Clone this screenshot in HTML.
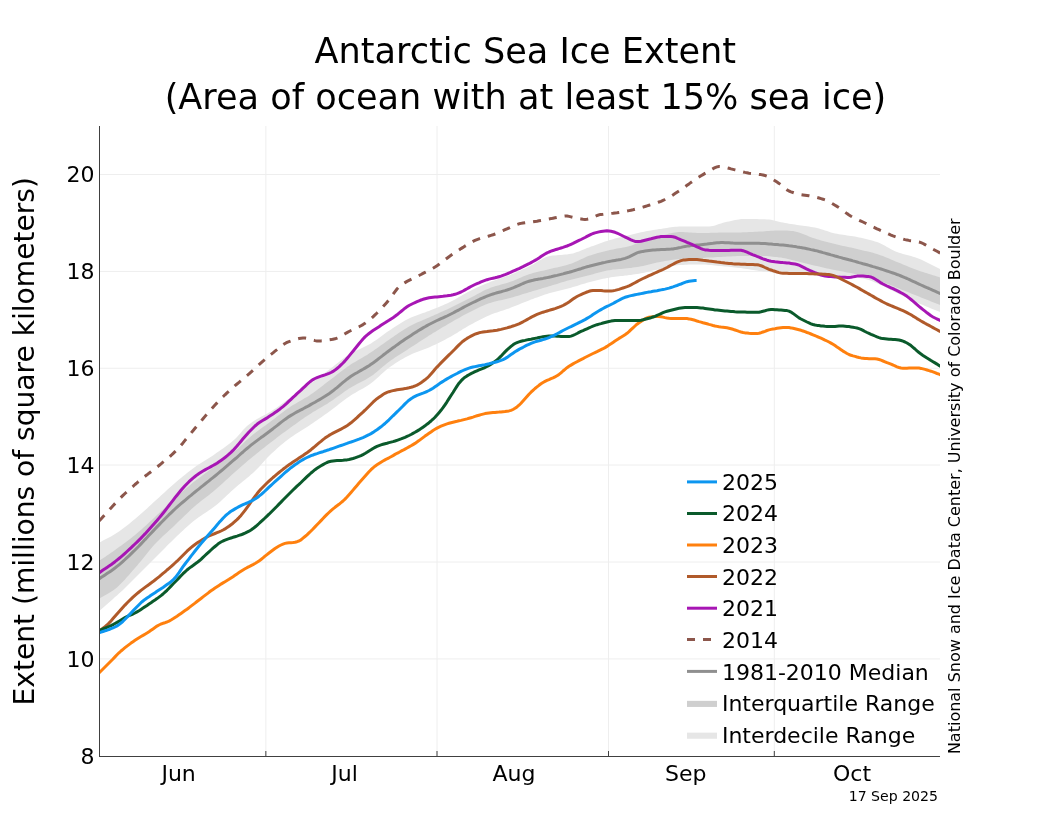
<!DOCTYPE html>
<html lang="en"><head><meta charset="utf-8"><title>Antarctic Sea Ice Extent</title>
<style>
html,body{margin:0;padding:0;background:#fff;}
body{width:1050px;height:840px;overflow:hidden;position:relative;font-family:'DejaVu Sans','Liberation Sans',sans-serif;color:#000;}
svg{position:absolute;left:0;top:0;display:block;}
svg text{font-family:'DejaVu Sans','Liberation Sans',sans-serif;fill:#000;}
</style></head><body>
<svg width="1050" height="840" viewBox="0 0 1050 840">
<rect width="1050" height="840" fill="#ffffff"/>
<defs><clipPath id="pc"><rect x="99.5" y="126" width="840.5" height="630.5"/></clipPath></defs>

<g stroke="#eeeeee" stroke-width="1" fill="none">
<line x1="265.85" y1="126" x2="265.85" y2="756.5"/>
<line x1="437.0" y1="126" x2="437.0" y2="756.5"/>
<line x1="608.5" y1="126" x2="608.5" y2="756.5"/>
<line x1="774.3" y1="126" x2="774.3" y2="756.5"/>
<line x1="99.5" y1="174.5" x2="940" y2="174.5"/>
<line x1="99.5" y1="271.4" x2="940" y2="271.4"/>
<line x1="99.5" y1="368.25" x2="940" y2="368.25"/>
<line x1="99.5" y1="465.05" x2="940" y2="465.05"/>
<line x1="99.5" y1="562.0" x2="940" y2="562.0"/>
<line x1="99.5" y1="658.9" x2="940" y2="658.9"/>
</g>
<g clip-path="url(#pc)" fill="none" stroke-linejoin="round" stroke-linecap="butt">
<path d="M99.0,542.8 L101.0,541.7 L103.0,540.6 L105.0,539.6 L107.0,538.5 L109.0,537.5 L111.0,536.4 L113.0,535.2 L115.0,534.0 L117.0,532.7 L119.0,531.4 L121.0,529.9 L123.0,528.5 L125.0,527.0 L127.0,525.4 L129.0,523.9 L131.0,522.3 L133.0,520.6 L135.0,519.0 L137.0,517.3 L139.0,515.6 L141.0,513.8 L143.0,512.0 L145.0,510.2 L147.0,508.4 L149.0,506.5 L151.0,504.7 L153.0,502.8 L155.0,501.0 L157.0,499.2 L159.0,497.4 L161.0,495.5 L163.0,493.7 L165.0,491.9 L167.0,490.0 L169.0,488.2 L171.0,486.5 L173.0,484.7 L175.0,483.0 L177.0,481.3 L179.0,479.6 L181.0,478.0 L183.0,476.3 L185.0,474.7 L187.0,473.1 L189.0,471.5 L191.0,470.0 L193.0,468.5 L195.0,467.0 L197.0,465.6 L199.0,464.3 L201.0,463.0 L203.0,461.7 L205.0,460.4 L207.0,459.2 L209.0,458.0 L211.0,456.7 L213.0,455.4 L215.0,454.0 L217.0,452.6 L219.0,451.2 L221.0,449.8 L223.0,448.4 L225.0,447.0 L227.0,445.5 L229.0,444.0 L231.0,442.4 L233.0,440.8 L235.0,439.0 L237.0,437.0 L239.0,434.8 L241.0,432.4 L243.0,430.1 L245.0,427.9 L247.0,426.0 L249.0,424.4 L251.0,423.0 L253.0,421.6 L255.0,420.3 L257.0,419.1 L259.0,417.9 L261.0,416.8 L263.0,415.8 L265.0,414.7 L267.0,413.7 L269.0,412.6 L271.0,411.4 L273.0,410.1 L275.0,408.8 L277.0,407.4 L279.0,406.0 L281.0,404.5 L283.0,403.1 L285.0,401.6 L287.0,400.1 L289.0,398.7 L291.0,397.3 L293.0,395.9 L295.0,394.5 L297.0,393.1 L299.0,391.8 L301.0,390.4 L303.0,389.0 L305.0,387.6 L307.0,386.2 L309.0,384.7 L311.0,383.3 L313.0,381.8 L315.0,380.3 L317.0,378.8 L319.0,377.3 L321.0,375.8 L323.0,374.3 L325.0,372.8 L327.0,371.3 L329.0,369.8 L331.0,368.2 L333.0,366.7 L335.0,365.1 L337.0,363.5 L339.0,361.9 L341.0,360.3 L343.0,358.8 L345.0,357.3 L347.0,355.9 L349.0,354.6 L351.0,353.4 L353.0,352.3 L355.0,351.3 L357.0,350.3 L359.0,349.4 L361.0,348.5 L363.0,347.6 L365.0,346.6 L367.0,345.6 L369.0,344.6 L371.0,343.4 L373.0,342.1 L375.0,340.8 L377.0,339.4 L379.0,337.9 L381.0,336.4 L383.0,334.9 L385.0,333.5 L387.0,332.0 L389.0,330.7 L391.0,329.4 L393.0,328.0 L395.0,326.7 L397.0,325.4 L399.0,324.2 L401.0,322.9 L403.0,321.7 L405.0,320.6 L407.0,319.5 L409.0,318.5 L411.0,317.5 L413.0,316.7 L415.0,315.9 L417.0,315.2 L419.0,314.4 L421.0,313.7 L423.0,313.1 L425.0,312.4 L427.0,311.6 L429.0,310.9 L431.0,310.1 L433.0,309.3 L435.0,308.5 L437.0,307.7 L439.0,306.9 L441.0,306.0 L443.0,305.2 L445.0,304.3 L447.0,303.4 L449.0,302.5 L451.0,301.5 L453.0,300.5 L455.0,299.4 L457.0,298.3 L459.0,297.1 L461.0,296.0 L463.0,294.8 L465.0,293.7 L467.0,292.6 L469.0,291.5 L471.0,290.5 L473.0,289.5 L475.0,288.6 L477.0,287.6 L479.0,286.7 L481.0,285.8 L483.0,284.9 L485.0,284.0 L487.0,283.2 L489.0,282.4 L491.0,281.6 L493.0,280.9 L495.0,280.2 L497.0,279.5 L499.0,278.8 L501.0,278.2 L503.0,277.5 L505.0,276.8 L507.0,276.1 L509.0,275.4 L511.0,274.6 L513.0,273.8 L515.0,272.9 L517.0,272.1 L519.0,271.2 L521.0,270.2 L523.0,269.3 L525.0,268.4 L527.0,267.4 L529.0,266.5 L531.0,265.5 L533.0,264.4 L535.0,263.3 L537.0,262.0 L539.0,260.8 L541.0,259.7 L543.0,258.6 L545.0,257.6 L547.0,256.8 L549.0,256.2 L551.0,255.8 L553.0,255.6 L555.0,255.4 L557.0,255.2 L559.0,255.0 L561.0,254.9 L563.0,254.8 L565.0,254.6 L567.0,254.4 L569.0,254.1 L571.0,253.8 L573.0,253.4 L575.0,252.8 L577.0,252.1 L579.0,251.4 L581.0,250.6 L583.0,249.8 L585.0,248.9 L587.0,248.1 L589.0,247.4 L591.0,246.6 L593.0,245.9 L595.0,245.2 L597.0,244.5 L599.0,243.7 L601.0,243.0 L603.0,242.3 L605.0,241.6 L607.0,240.9 L609.0,240.3 L611.0,239.7 L613.0,239.2 L615.0,238.6 L617.0,238.1 L619.0,237.6 L621.0,237.2 L623.0,236.7 L625.0,236.2 L627.0,235.7 L629.0,235.2 L631.0,234.7 L633.0,234.2 L635.0,233.7 L637.0,233.2 L639.0,232.7 L641.0,232.3 L643.0,231.9 L645.0,231.5 L647.0,231.1 L649.0,230.8 L651.0,230.4 L653.0,230.1 L655.0,229.8 L657.0,229.4 L659.0,229.1 L661.0,228.9 L663.0,228.5 L665.0,228.2 L667.0,227.9 L669.0,227.6 L671.0,227.3 L673.0,227.0 L675.0,226.8 L677.0,226.7 L679.0,226.6 L681.0,226.6 L683.0,226.6 L685.0,226.6 L687.0,226.6 L689.0,226.6 L691.0,226.6 L693.0,226.6 L695.0,226.6 L697.0,226.6 L699.0,226.6 L701.0,226.6 L703.0,226.6 L705.0,226.6 L707.0,226.6 L709.0,226.6 L711.0,226.3 L713.0,225.9 L715.0,225.4 L717.0,224.8 L719.0,224.1 L721.0,223.4 L723.0,222.8 L725.0,222.2 L727.0,221.8 L729.0,221.4 L731.0,220.9 L733.0,220.5 L735.0,220.0 L737.0,219.7 L739.0,219.4 L741.0,219.1 L743.0,219.0 L745.0,219.0 L747.0,219.0 L749.0,219.0 L751.0,219.0 L753.0,219.1 L755.0,219.1 L757.0,219.1 L759.0,219.2 L761.0,219.2 L763.0,219.2 L765.0,219.3 L767.0,219.4 L769.0,219.5 L771.0,219.8 L773.0,220.2 L775.0,220.7 L777.0,221.3 L779.0,221.8 L781.0,222.2 L783.0,222.6 L785.0,223.0 L787.0,223.3 L789.0,223.7 L791.0,224.0 L793.0,224.3 L795.0,224.6 L797.0,224.9 L799.0,225.2 L801.0,225.4 L803.0,225.7 L805.0,226.0 L807.0,226.3 L809.0,226.6 L811.0,226.9 L813.0,227.2 L815.0,227.6 L817.0,228.0 L819.0,228.6 L821.0,229.2 L823.0,229.8 L825.0,230.5 L827.0,231.1 L829.0,231.8 L831.0,232.4 L833.0,232.9 L835.0,233.4 L837.0,233.8 L839.0,234.2 L841.0,234.5 L843.0,234.8 L845.0,235.1 L847.0,235.4 L849.0,235.7 L851.0,236.0 L853.0,236.3 L855.0,236.6 L857.0,237.0 L859.0,237.4 L861.0,237.8 L863.0,238.2 L865.0,238.7 L867.0,239.2 L869.0,239.7 L871.0,240.2 L873.0,240.8 L875.0,241.4 L877.0,242.0 L879.0,242.8 L881.0,243.7 L883.0,244.7 L885.0,245.8 L887.0,246.9 L889.0,248.0 L891.0,249.2 L893.0,250.2 L895.0,251.2 L897.0,252.0 L899.0,252.7 L901.0,253.3 L903.0,253.9 L905.0,254.5 L907.0,255.0 L909.0,255.6 L911.0,256.1 L913.0,256.7 L915.0,257.3 L917.0,258.0 L919.0,258.8 L921.0,259.6 L923.0,260.5 L925.0,261.4 L927.0,262.4 L929.0,263.4 L931.0,264.5 L933.0,265.5 L935.0,266.5 L937.0,267.5 L939.0,268.5 L941.0,269.5 L941.0,312.4 L939.0,311.6 L937.0,310.8 L935.0,310.0 L933.0,309.2 L931.0,308.4 L929.0,307.6 L927.0,306.8 L925.0,306.0 L923.0,305.1 L921.0,304.3 L919.0,303.4 L917.0,302.5 L915.0,301.6 L913.0,300.7 L911.0,299.8 L909.0,298.9 L907.0,297.9 L905.0,297.0 L903.0,296.0 L901.0,295.0 L899.0,294.0 L897.0,293.0 L895.0,291.9 L893.0,290.9 L891.0,289.9 L889.0,288.9 L887.0,287.9 L885.0,287.0 L883.0,286.1 L881.0,285.2 L879.0,284.2 L877.0,283.3 L875.0,282.4 L873.0,281.6 L871.0,280.8 L869.0,280.1 L867.0,279.5 L865.0,279.0 L863.0,278.6 L861.0,278.2 L859.0,277.8 L857.0,277.5 L855.0,277.1 L853.0,276.9 L851.0,276.6 L849.0,276.4 L847.0,276.2 L845.0,276.0 L843.0,275.9 L841.0,275.7 L839.0,275.6 L837.0,275.5 L835.0,275.4 L833.0,275.3 L831.0,275.3 L829.0,275.2 L827.0,275.1 L825.0,275.0 L823.0,274.9 L821.0,274.8 L819.0,274.7 L817.0,274.6 L815.0,274.5 L813.0,274.4 L811.0,274.3 L809.0,274.2 L807.0,274.1 L805.0,274.0 L803.0,273.9 L801.0,273.8 L799.0,273.8 L797.0,273.7 L795.0,273.6 L793.0,273.5 L791.0,273.5 L789.0,273.4 L787.0,273.3 L785.0,273.2 L783.0,273.2 L781.0,273.1 L779.0,272.9 L777.0,272.8 L775.0,272.6 L773.0,272.5 L771.0,272.3 L769.0,272.0 L767.0,271.8 L765.0,271.6 L763.0,271.4 L761.0,271.1 L759.0,270.9 L757.0,270.6 L755.0,270.3 L753.0,270.0 L751.0,269.7 L749.0,269.3 L747.0,269.0 L745.0,268.7 L743.0,268.4 L741.0,268.1 L739.0,267.9 L737.0,267.7 L735.0,267.4 L733.0,267.2 L731.0,267.0 L729.0,266.8 L727.0,266.6 L725.0,266.5 L723.0,266.3 L721.0,266.1 L719.0,265.9 L717.0,265.7 L715.0,265.5 L713.0,265.3 L711.0,265.1 L709.0,264.9 L707.0,264.7 L705.0,264.6 L703.0,264.5 L701.0,264.4 L699.0,264.4 L697.0,264.4 L695.0,264.4 L693.0,264.5 L691.0,264.5 L689.0,264.6 L687.0,264.7 L685.0,264.8 L683.0,264.9 L681.0,264.9 L679.0,265.1 L677.0,265.3 L675.0,265.6 L673.0,265.9 L671.0,266.4 L669.0,266.8 L667.0,267.3 L665.0,267.8 L663.0,268.3 L661.0,268.8 L659.0,269.2 L657.0,269.7 L655.0,270.1 L653.0,270.6 L651.0,271.1 L649.0,271.6 L647.0,272.0 L645.0,272.5 L643.0,272.9 L641.0,273.3 L639.0,273.7 L637.0,274.0 L635.0,274.3 L633.0,274.6 L631.0,274.9 L629.0,275.1 L627.0,275.4 L625.0,275.6 L623.0,275.9 L621.0,276.1 L619.0,276.3 L617.0,276.5 L615.0,276.8 L613.0,277.1 L611.0,277.3 L609.0,277.7 L607.0,278.0 L605.0,278.4 L603.0,278.8 L601.0,279.3 L599.0,279.7 L597.0,280.2 L595.0,280.7 L593.0,281.2 L591.0,281.7 L589.0,282.3 L587.0,282.8 L585.0,283.4 L583.0,284.0 L581.0,284.6 L579.0,285.3 L577.0,285.9 L575.0,286.5 L573.0,287.1 L571.0,287.7 L569.0,288.3 L567.0,288.8 L565.0,289.3 L563.0,289.8 L561.0,290.2 L559.0,290.7 L557.0,291.2 L555.0,291.7 L553.0,292.2 L551.0,292.7 L549.0,293.3 L547.0,293.9 L545.0,294.6 L543.0,295.2 L541.0,295.9 L539.0,296.7 L537.0,297.4 L535.0,298.1 L533.0,298.9 L531.0,299.6 L529.0,300.4 L527.0,301.2 L525.0,301.9 L523.0,302.8 L521.0,303.6 L519.0,304.4 L517.0,305.2 L515.0,306.0 L513.0,306.8 L511.0,307.6 L509.0,308.4 L507.0,309.1 L505.0,309.8 L503.0,310.4 L501.0,311.1 L499.0,311.7 L497.0,312.4 L495.0,313.1 L493.0,313.8 L491.0,314.6 L489.0,315.4 L487.0,316.3 L485.0,317.2 L483.0,318.2 L481.0,319.2 L479.0,320.2 L477.0,321.2 L475.0,322.3 L473.0,323.4 L471.0,324.5 L469.0,325.6 L467.0,326.7 L465.0,327.9 L463.0,329.1 L461.0,330.4 L459.0,331.6 L457.0,332.9 L455.0,334.1 L453.0,335.3 L451.0,336.4 L449.0,337.5 L447.0,338.6 L445.0,339.7 L443.0,340.7 L441.0,341.7 L439.0,342.8 L437.0,343.7 L435.0,344.7 L433.0,345.6 L431.0,346.6 L429.0,347.4 L427.0,348.3 L425.0,349.1 L423.0,349.8 L421.0,350.5 L419.0,351.3 L417.0,352.0 L415.0,352.8 L413.0,353.6 L411.0,354.5 L409.0,355.5 L407.0,356.5 L405.0,357.6 L403.0,358.7 L401.0,359.8 L399.0,361.1 L397.0,362.3 L395.0,363.6 L393.0,364.9 L391.0,366.3 L389.0,367.7 L387.0,369.3 L385.0,371.0 L383.0,372.7 L381.0,374.6 L379.0,376.4 L377.0,378.3 L375.0,380.0 L373.0,381.7 L371.0,383.3 L369.0,384.7 L367.0,386.0 L365.0,387.2 L363.0,388.4 L361.0,389.5 L359.0,390.6 L357.0,391.8 L355.0,392.9 L353.0,394.1 L351.0,395.3 L349.0,396.7 L347.0,398.1 L345.0,399.5 L343.0,401.0 L341.0,402.6 L339.0,404.1 L337.0,405.7 L335.0,407.2 L333.0,408.8 L331.0,410.3 L329.0,411.7 L327.0,413.2 L325.0,414.6 L323.0,416.0 L321.0,417.4 L319.0,418.8 L317.0,420.2 L315.0,421.6 L313.0,423.0 L311.0,424.3 L309.0,425.7 L307.0,427.0 L305.0,428.2 L303.0,429.5 L301.0,430.7 L299.0,432.0 L297.0,433.2 L295.0,434.5 L293.0,435.9 L291.0,437.3 L289.0,438.7 L287.0,440.3 L285.0,441.8 L283.0,443.5 L281.0,445.1 L279.0,446.8 L277.0,448.6 L275.0,450.4 L273.0,452.2 L271.0,454.1 L269.0,456.0 L267.0,458.0 L265.0,460.2 L263.0,462.4 L261.0,464.7 L259.0,466.9 L257.0,469.0 L255.0,471.0 L253.0,472.9 L251.0,474.6 L249.0,476.4 L247.0,478.0 L245.0,479.7 L243.0,481.3 L241.0,483.0 L239.0,484.6 L237.0,486.3 L235.0,488.0 L233.0,489.8 L231.0,491.6 L229.0,493.5 L227.0,495.3 L225.0,497.2 L223.0,499.1 L221.0,500.9 L219.0,502.7 L217.0,504.4 L215.0,506.0 L213.0,507.5 L211.0,509.0 L209.0,510.3 L207.0,511.7 L205.0,513.0 L203.0,514.3 L201.0,515.7 L199.0,517.0 L197.0,518.5 L195.0,520.0 L193.0,521.6 L191.0,523.3 L189.0,525.0 L187.0,526.8 L185.0,528.6 L183.0,530.4 L181.0,532.3 L179.0,534.2 L177.0,536.1 L175.0,538.0 L173.0,539.9 L171.0,541.9 L169.0,543.8 L167.0,545.8 L165.0,547.9 L163.0,549.9 L161.0,551.9 L159.0,554.0 L157.0,556.0 L155.0,558.0 L153.0,560.0 L151.0,562.0 L149.0,564.0 L147.0,566.0 L145.0,568.0 L143.0,570.0 L141.0,572.0 L139.0,574.0 L137.0,576.0 L135.0,578.0 L133.0,580.0 L131.0,582.0 L129.0,584.1 L127.0,586.1 L125.0,588.0 L123.0,589.9 L121.0,591.7 L119.0,593.6 L117.0,595.4 L115.0,597.1 L113.0,598.9 L111.0,600.7 L109.0,602.4 L107.0,604.2 L105.0,605.9 L103.0,607.7 L101.0,609.5 L99.0,611.3Z" fill="#e6e6e6" stroke="none"/>
<path d="M99.0,561.0 L101.0,559.6 L103.0,558.2 L105.0,556.9 L107.0,555.5 L109.0,554.2 L111.0,552.8 L113.0,551.4 L115.0,550.0 L117.0,548.6 L119.0,547.1 L121.0,545.7 L123.0,544.2 L125.0,542.8 L127.0,541.3 L129.0,539.7 L131.0,538.2 L133.0,536.6 L135.0,535.0 L137.0,533.3 L139.0,531.6 L141.0,529.9 L143.0,528.1 L145.0,526.3 L147.0,524.4 L149.0,522.6 L151.0,520.7 L153.0,518.9 L155.0,517.0 L157.0,515.1 L159.0,513.2 L161.0,511.3 L163.0,509.4 L165.0,507.4 L167.0,505.5 L169.0,503.6 L171.0,501.7 L173.0,499.8 L175.0,498.0 L177.0,496.2 L179.0,494.4 L181.0,492.7 L183.0,491.0 L185.0,489.2 L187.0,487.6 L189.0,485.9 L191.0,484.2 L193.0,482.6 L195.0,481.0 L197.0,479.4 L199.0,477.9 L201.0,476.4 L203.0,474.9 L205.0,473.4 L207.0,471.9 L209.0,470.4 L211.0,469.0 L213.0,467.5 L215.0,466.0 L217.0,464.5 L219.0,463.1 L221.0,461.6 L223.0,460.2 L225.0,458.7 L227.0,457.2 L229.0,455.8 L231.0,454.2 L233.0,452.6 L235.0,451.0 L237.0,449.3 L239.0,447.4 L241.0,445.5 L243.0,443.5 L245.0,441.6 L247.0,439.7 L249.0,437.9 L251.0,436.2 L253.0,434.6 L255.0,433.0 L257.0,431.5 L259.0,430.0 L261.0,428.6 L263.0,427.1 L265.0,425.7 L267.0,424.2 L269.0,422.7 L271.0,421.2 L273.0,419.7 L275.0,418.2 L277.0,416.6 L279.0,415.1 L281.0,413.5 L283.0,412.0 L285.0,410.5 L287.0,409.1 L289.0,407.7 L291.0,406.3 L293.0,405.1 L295.0,403.9 L297.0,402.7 L299.0,401.6 L301.0,400.4 L303.0,399.3 L305.0,398.1 L307.0,396.9 L309.0,395.7 L311.0,394.3 L313.0,392.9 L315.0,391.5 L317.0,390.0 L319.0,388.5 L321.0,386.9 L323.0,385.4 L325.0,383.8 L327.0,382.3 L329.0,380.8 L331.0,379.2 L333.0,377.7 L335.0,376.2 L337.0,374.6 L339.0,373.1 L341.0,371.5 L343.0,370.0 L345.0,368.5 L347.0,367.1 L349.0,365.7 L351.0,364.3 L353.0,363.1 L355.0,361.9 L357.0,360.7 L359.0,359.5 L361.0,358.4 L363.0,357.2 L365.0,356.1 L367.0,354.9 L369.0,353.6 L371.0,352.3 L373.0,351.0 L375.0,349.6 L377.0,348.2 L379.0,346.8 L381.0,345.3 L383.0,343.9 L385.0,342.5 L387.0,341.1 L389.0,339.7 L391.0,338.3 L393.0,337.0 L395.0,335.6 L397.0,334.2 L399.0,332.8 L401.0,331.5 L403.0,330.2 L405.0,328.9 L407.0,327.7 L409.0,326.5 L411.0,325.5 L413.0,324.5 L415.0,323.5 L417.0,322.6 L419.0,321.7 L421.0,320.9 L423.0,320.0 L425.0,319.2 L427.0,318.3 L429.0,317.4 L431.0,316.6 L433.0,315.7 L435.0,314.8 L437.0,313.9 L439.0,313.0 L441.0,312.1 L443.0,311.2 L445.0,310.3 L447.0,309.4 L449.0,308.5 L451.0,307.5 L453.0,306.6 L455.0,305.6 L457.0,304.6 L459.0,303.6 L461.0,302.6 L463.0,301.5 L465.0,300.5 L467.0,299.5 L469.0,298.5 L471.0,297.5 L473.0,296.5 L475.0,295.4 L477.0,294.3 L479.0,293.2 L481.0,292.2 L483.0,291.1 L485.0,290.1 L487.0,289.2 L489.0,288.4 L491.0,287.6 L493.0,287.0 L495.0,286.3 L497.0,285.7 L499.0,285.2 L501.0,284.6 L503.0,284.1 L505.0,283.6 L507.0,283.0 L509.0,282.3 L511.0,281.6 L513.0,280.9 L515.0,280.1 L517.0,279.2 L519.0,278.3 L521.0,277.5 L523.0,276.6 L525.0,275.8 L527.0,275.0 L529.0,274.3 L531.0,273.7 L533.0,273.1 L535.0,272.6 L537.0,272.1 L539.0,271.6 L541.0,271.1 L543.0,270.7 L545.0,270.2 L547.0,269.7 L549.0,269.2 L551.0,268.8 L553.0,268.3 L555.0,267.8 L557.0,267.4 L559.0,266.9 L561.0,266.4 L563.0,265.9 L565.0,265.4 L567.0,264.9 L569.0,264.3 L571.0,263.7 L573.0,262.9 L575.0,262.1 L577.0,261.2 L579.0,260.3 L581.0,259.3 L583.0,258.4 L585.0,257.5 L587.0,256.6 L589.0,255.8 L591.0,255.2 L593.0,254.5 L595.0,253.9 L597.0,253.3 L599.0,252.8 L601.0,252.2 L603.0,251.7 L605.0,251.2 L607.0,250.7 L609.0,250.2 L611.0,249.8 L613.0,249.4 L615.0,249.0 L617.0,248.6 L619.0,248.3 L621.0,247.9 L623.0,247.6 L625.0,247.2 L627.0,246.8 L629.0,246.3 L631.0,245.7 L633.0,244.9 L635.0,244.1 L637.0,243.2 L639.0,242.4 L641.0,241.7 L643.0,241.0 L645.0,240.3 L647.0,239.7 L649.0,239.0 L651.0,238.4 L653.0,237.8 L655.0,237.3 L657.0,236.8 L659.0,236.2 L661.0,235.8 L663.0,235.2 L665.0,234.7 L667.0,234.2 L669.0,233.6 L671.0,233.2 L673.0,232.7 L675.0,232.4 L677.0,232.2 L679.0,232.0 L681.0,232.0 L683.0,232.1 L685.0,232.2 L687.0,232.3 L689.0,232.4 L691.0,232.6 L693.0,232.7 L695.0,232.8 L697.0,232.9 L699.0,233.0 L701.0,233.0 L703.0,233.0 L705.0,232.9 L707.0,232.9 L709.0,232.9 L711.0,232.8 L713.0,232.8 L715.0,232.7 L717.0,232.7 L719.0,232.6 L721.0,232.6 L723.0,232.6 L725.0,232.5 L727.0,232.5 L729.0,232.5 L731.0,232.5 L733.0,232.5 L735.0,232.5 L737.0,232.4 L739.0,232.4 L741.0,232.4 L743.0,232.3 L745.0,232.3 L747.0,232.2 L749.0,232.1 L751.0,232.0 L753.0,231.9 L755.0,231.8 L757.0,231.7 L759.0,231.6 L761.0,231.5 L763.0,231.4 L765.0,231.3 L767.0,231.1 L769.0,231.0 L771.0,230.8 L773.0,230.7 L775.0,230.5 L777.0,230.5 L779.0,230.4 L781.0,230.4 L783.0,230.4 L785.0,230.5 L787.0,230.6 L789.0,230.8 L791.0,230.9 L793.0,231.1 L795.0,231.5 L797.0,232.0 L799.0,232.6 L801.0,233.2 L803.0,233.9 L805.0,234.7 L807.0,235.6 L809.0,236.4 L811.0,237.2 L813.0,237.9 L815.0,238.6 L817.0,239.2 L819.0,239.8 L821.0,240.4 L823.0,240.9 L825.0,241.5 L827.0,242.0 L829.0,242.5 L831.0,243.0 L833.0,243.5 L835.0,244.0 L837.0,244.5 L839.0,245.0 L841.0,245.4 L843.0,245.9 L845.0,246.3 L847.0,246.7 L849.0,247.2 L851.0,247.6 L853.0,248.1 L855.0,248.5 L857.0,249.0 L859.0,249.5 L861.0,249.9 L863.0,250.4 L865.0,250.9 L867.0,251.3 L869.0,251.8 L871.0,252.3 L873.0,252.8 L875.0,253.4 L877.0,254.0 L879.0,254.7 L881.0,255.4 L883.0,256.1 L885.0,256.9 L887.0,257.8 L889.0,258.6 L891.0,259.5 L893.0,260.3 L895.0,261.2 L897.0,262.0 L899.0,262.8 L901.0,263.6 L903.0,264.5 L905.0,265.3 L907.0,266.1 L909.0,266.9 L911.0,267.7 L913.0,268.5 L915.0,269.3 L917.0,270.0 L919.0,270.7 L921.0,271.4 L923.0,272.0 L925.0,272.7 L927.0,273.3 L929.0,274.0 L931.0,274.6 L933.0,275.2 L935.0,275.8 L937.0,276.4 L939.0,277.1 L941.0,277.7 L941.0,305.4 L939.0,304.6 L937.0,303.8 L935.0,303.0 L933.0,302.2 L931.0,301.4 L929.0,300.6 L927.0,299.8 L925.0,299.0 L923.0,298.2 L921.0,297.4 L919.0,296.6 L917.0,295.8 L915.0,295.0 L913.0,294.2 L911.0,293.4 L909.0,292.6 L907.0,291.8 L905.0,291.0 L903.0,290.2 L901.0,289.4 L899.0,288.6 L897.0,287.7 L895.0,286.9 L893.0,286.1 L891.0,285.3 L889.0,284.5 L887.0,283.8 L885.0,283.0 L883.0,282.2 L881.0,281.5 L879.0,280.7 L877.0,279.9 L875.0,279.2 L873.0,278.5 L871.0,277.8 L869.0,277.1 L867.0,276.5 L865.0,276.0 L863.0,275.5 L861.0,275.1 L859.0,274.6 L857.0,274.2 L855.0,273.9 L853.0,273.5 L851.0,273.1 L849.0,272.8 L847.0,272.4 L845.0,272.0 L843.0,271.6 L841.0,271.2 L839.0,270.8 L837.0,270.4 L835.0,270.0 L833.0,269.7 L831.0,269.3 L829.0,268.8 L827.0,268.4 L825.0,268.0 L823.0,267.6 L821.0,267.1 L819.0,266.6 L817.0,266.1 L815.0,265.7 L813.0,265.2 L811.0,264.7 L809.0,264.2 L807.0,263.7 L805.0,263.2 L803.0,262.7 L801.0,262.2 L799.0,261.8 L797.0,261.3 L795.0,260.8 L793.0,260.2 L791.0,259.7 L789.0,259.2 L787.0,258.8 L785.0,258.3 L783.0,258.0 L781.0,257.6 L779.0,257.4 L777.0,257.1 L775.0,256.9 L773.0,256.7 L771.0,256.4 L769.0,256.2 L767.0,256.1 L765.0,255.9 L763.0,255.9 L761.0,255.8 L759.0,255.8 L757.0,255.8 L755.0,255.8 L753.0,255.8 L751.0,255.8 L749.0,255.9 L747.0,255.9 L745.0,255.9 L743.0,256.0 L741.0,256.0 L739.0,256.0 L737.0,256.1 L735.0,256.2 L733.0,256.3 L731.0,256.4 L729.0,256.5 L727.0,256.6 L725.0,256.7 L723.0,256.8 L721.0,256.9 L719.0,257.1 L717.0,257.1 L715.0,257.2 L713.0,257.4 L711.0,257.4 L709.0,257.6 L707.0,257.6 L705.0,257.8 L703.0,257.9 L701.0,257.9 L699.0,258.0 L697.0,258.1 L695.0,258.2 L693.0,258.3 L691.0,258.4 L689.0,258.5 L687.0,258.6 L685.0,258.7 L683.0,258.8 L681.0,258.9 L679.0,259.1 L677.0,259.3 L675.0,259.5 L673.0,259.8 L671.0,260.1 L669.0,260.4 L667.0,260.7 L665.0,261.1 L663.0,261.5 L661.0,261.8 L659.0,262.2 L657.0,262.6 L655.0,263.0 L653.0,263.5 L651.0,264.0 L649.0,264.5 L647.0,265.0 L645.0,265.5 L643.0,265.9 L641.0,266.3 L639.0,266.7 L637.0,267.0 L635.0,267.3 L633.0,267.6 L631.0,267.9 L629.0,268.1 L627.0,268.3 L625.0,268.5 L623.0,268.7 L621.0,268.9 L619.0,269.0 L617.0,269.2 L615.0,269.4 L613.0,269.6 L611.0,269.9 L609.0,270.2 L607.0,270.5 L605.0,270.9 L603.0,271.4 L601.0,272.0 L599.0,272.5 L597.0,273.1 L595.0,273.6 L593.0,274.2 L591.0,274.7 L589.0,275.2 L587.0,275.7 L585.0,276.2 L583.0,276.7 L581.0,277.2 L579.0,277.7 L577.0,278.2 L575.0,278.7 L573.0,279.2 L571.0,279.7 L569.0,280.3 L567.0,280.8 L565.0,281.4 L563.0,282.0 L561.0,282.6 L559.0,283.2 L557.0,283.9 L555.0,284.5 L553.0,285.1 L551.0,285.7 L549.0,286.3 L547.0,286.9 L545.0,287.5 L543.0,288.1 L541.0,288.7 L539.0,289.3 L537.0,289.9 L535.0,290.5 L533.0,291.1 L531.0,291.7 L529.0,292.3 L527.0,292.9 L525.0,293.5 L523.0,294.1 L521.0,294.8 L519.0,295.4 L517.0,296.0 L515.0,296.6 L513.0,297.2 L511.0,297.7 L509.0,298.3 L507.0,298.8 L505.0,299.2 L503.0,299.7 L501.0,300.2 L499.0,300.6 L497.0,301.1 L495.0,301.6 L493.0,302.1 L491.0,302.7 L489.0,303.3 L487.0,304.1 L485.0,304.8 L483.0,305.7 L481.0,306.6 L479.0,307.5 L477.0,308.5 L475.0,309.5 L473.0,310.5 L471.0,311.5 L469.0,312.5 L467.0,313.5 L465.0,314.6 L463.0,315.6 L461.0,316.7 L459.0,317.9 L457.0,319.0 L455.0,320.1 L453.0,321.3 L451.0,322.4 L449.0,323.6 L447.0,324.7 L445.0,325.9 L443.0,327.1 L441.0,328.3 L439.0,329.5 L437.0,330.7 L435.0,331.9 L433.0,333.1 L431.0,334.4 L429.0,335.6 L427.0,336.9 L425.0,338.2 L423.0,339.5 L421.0,340.8 L419.0,342.1 L417.0,343.4 L415.0,344.7 L413.0,346.0 L411.0,347.3 L409.0,348.6 L407.0,349.9 L405.0,351.2 L403.0,352.4 L401.0,353.7 L399.0,355.0 L397.0,356.3 L395.0,357.6 L393.0,358.9 L391.0,360.3 L389.0,361.7 L387.0,363.3 L385.0,364.9 L383.0,366.6 L381.0,368.3 L379.0,370.0 L377.0,371.7 L375.0,373.3 L373.0,374.9 L371.0,376.3 L369.0,377.6 L367.0,378.8 L365.0,380.0 L363.0,381.0 L361.0,382.1 L359.0,383.1 L357.0,384.1 L355.0,385.2 L353.0,386.2 L351.0,387.4 L349.0,388.6 L347.0,389.9 L345.0,391.3 L343.0,392.7 L341.0,394.2 L339.0,395.7 L337.0,397.1 L335.0,398.6 L333.0,400.0 L331.0,401.3 L329.0,402.6 L327.0,403.9 L325.0,405.1 L323.0,406.3 L321.0,407.4 L319.0,408.6 L317.0,409.7 L315.0,410.9 L313.0,412.1 L311.0,413.4 L309.0,414.7 L307.0,416.0 L305.0,417.3 L303.0,418.7 L301.0,420.1 L299.0,421.5 L297.0,422.9 L295.0,424.4 L293.0,425.8 L291.0,427.3 L289.0,428.7 L287.0,430.2 L285.0,431.7 L283.0,433.1 L281.0,434.6 L279.0,436.1 L277.0,437.6 L275.0,439.2 L273.0,440.7 L271.0,442.2 L269.0,443.8 L267.0,445.3 L265.0,446.9 L263.0,448.5 L261.0,450.1 L259.0,451.7 L257.0,453.3 L255.0,454.9 L253.0,456.5 L251.0,458.2 L249.0,459.8 L247.0,461.5 L245.0,463.2 L243.0,465.0 L241.0,466.7 L239.0,468.5 L237.0,470.2 L235.0,472.0 L233.0,473.8 L231.0,475.6 L229.0,477.4 L227.0,479.3 L225.0,481.1 L223.0,482.9 L221.0,484.7 L219.0,486.5 L217.0,488.3 L215.0,490.0 L213.0,491.7 L211.0,493.3 L209.0,494.9 L207.0,496.4 L205.0,497.9 L203.0,499.5 L201.0,501.1 L199.0,502.7 L197.0,504.3 L195.0,506.0 L193.0,507.8 L191.0,509.6 L189.0,511.5 L187.0,513.4 L185.0,515.3 L183.0,517.2 L181.0,519.2 L179.0,521.1 L177.0,523.1 L175.0,525.0 L173.0,526.9 L171.0,528.7 L169.0,530.6 L167.0,532.4 L165.0,534.2 L163.0,536.1 L161.0,538.0 L159.0,539.9 L157.0,541.9 L155.0,544.0 L153.0,546.2 L151.0,548.5 L149.0,550.9 L147.0,553.4 L145.0,555.9 L143.0,558.4 L141.0,560.9 L139.0,563.3 L137.0,565.7 L135.0,568.0 L133.0,570.3 L131.0,572.6 L129.0,574.9 L127.0,577.1 L125.0,579.4 L123.0,581.6 L121.0,583.6 L119.0,585.6 L117.0,587.4 L115.0,589.0 L113.0,590.5 L111.0,591.8 L109.0,593.0 L107.0,594.2 L105.0,595.3 L103.0,596.5 L101.0,597.6 L99.0,598.9Z" fill="#cfcfcf" stroke="none"/>
<path d="M99.0,579.0 L101.0,577.6 L103.0,576.3 L105.0,574.9 L107.0,573.6 L109.0,572.3 L111.0,570.9 L113.0,569.5 L115.0,568.0 L117.0,566.4 L119.0,564.8 L121.0,563.1 L123.0,561.3 L125.0,559.5 L127.0,557.6 L129.0,555.8 L131.0,553.9 L133.0,551.9 L135.0,550.0 L137.0,548.0 L139.0,546.0 L141.0,543.9 L143.0,541.8 L145.0,539.6 L147.0,537.5 L149.0,535.3 L151.0,533.2 L153.0,531.1 L155.0,529.0 L157.0,526.9 L159.0,524.9 L161.0,522.8 L163.0,520.8 L165.0,518.7 L167.0,516.7 L169.0,514.7 L171.0,512.8 L173.0,510.9 L175.0,509.0 L177.0,507.2 L179.0,505.4 L181.0,503.7 L183.0,502.0 L185.0,500.3 L187.0,498.6 L189.0,496.9 L191.0,495.3 L193.0,493.6 L195.0,492.0 L197.0,490.4 L199.0,488.8 L201.0,487.2 L203.0,485.6 L205.0,484.0 L207.0,482.4 L209.0,480.8 L211.0,479.2 L213.0,477.6 L215.0,476.0 L217.0,474.3 L219.0,472.7 L221.0,471.0 L223.0,469.3 L225.0,467.6 L227.0,465.9 L229.0,464.2 L231.0,462.4 L233.0,460.7 L235.0,459.0 L237.0,457.3 L239.0,455.5 L241.0,453.7 L243.0,452.0 L245.0,450.2 L247.0,448.5 L249.0,446.8 L251.0,445.2 L253.0,443.6 L255.0,442.1 L257.0,440.6 L259.0,439.1 L261.0,437.6 L263.0,436.2 L265.0,434.7 L267.0,433.2 L269.0,431.7 L271.0,430.2 L273.0,428.7 L275.0,427.1 L277.0,425.6 L279.0,424.0 L281.0,422.4 L283.0,420.9 L285.0,419.4 L287.0,418.0 L289.0,416.6 L291.0,415.4 L293.0,414.2 L295.0,413.0 L297.0,411.9 L299.0,410.9 L301.0,409.8 L303.0,408.8 L305.0,407.7 L307.0,406.7 L309.0,405.6 L311.0,404.4 L313.0,403.3 L315.0,402.2 L317.0,401.0 L319.0,399.9 L321.0,398.7 L323.0,397.5 L325.0,396.3 L327.0,395.0 L329.0,393.7 L331.0,392.3 L333.0,390.8 L335.0,389.2 L337.0,387.6 L339.0,385.9 L341.0,384.1 L343.0,382.4 L345.0,380.8 L347.0,379.2 L349.0,377.7 L351.0,376.3 L353.0,375.0 L355.0,373.8 L357.0,372.7 L359.0,371.5 L361.0,370.4 L363.0,369.3 L365.0,368.1 L367.0,366.9 L369.0,365.7 L371.0,364.3 L373.0,362.9 L375.0,361.5 L377.0,360.0 L379.0,358.4 L381.0,356.9 L383.0,355.3 L385.0,353.8 L387.0,352.2 L389.0,350.7 L391.0,349.3 L393.0,347.8 L395.0,346.4 L397.0,344.9 L399.0,343.5 L401.0,342.1 L403.0,340.7 L405.0,339.3 L407.0,338.0 L409.0,336.7 L411.0,335.4 L413.0,334.1 L415.0,332.8 L417.0,331.6 L419.0,330.3 L421.0,329.1 L423.0,327.9 L425.0,326.8 L427.0,325.6 L429.0,324.5 L431.0,323.5 L433.0,322.5 L435.0,321.5 L437.0,320.5 L439.0,319.6 L441.0,318.7 L443.0,317.8 L445.0,316.9 L447.0,316.0 L449.0,315.0 L451.0,314.0 L453.0,313.0 L455.0,311.9 L457.0,310.8 L459.0,309.8 L461.0,308.7 L463.0,307.6 L465.0,306.5 L467.0,305.5 L469.0,304.5 L471.0,303.5 L473.0,302.5 L475.0,301.6 L477.0,300.6 L479.0,299.7 L481.0,298.7 L483.0,297.8 L485.0,297.0 L487.0,296.1 L489.0,295.4 L491.0,294.6 L493.0,294.0 L495.0,293.4 L497.0,292.8 L499.0,292.2 L501.0,291.7 L503.0,291.1 L505.0,290.6 L507.0,290.0 L509.0,289.3 L511.0,288.6 L513.0,287.9 L515.0,287.0 L517.0,286.2 L519.0,285.3 L521.0,284.4 L523.0,283.5 L525.0,282.7 L527.0,281.9 L529.0,281.3 L531.0,280.7 L533.0,280.3 L535.0,279.8 L537.0,279.4 L539.0,279.1 L541.0,278.7 L543.0,278.4 L545.0,278.0 L547.0,277.6 L549.0,277.2 L551.0,276.8 L553.0,276.3 L555.0,275.8 L557.0,275.4 L559.0,274.9 L561.0,274.4 L563.0,273.9 L565.0,273.3 L567.0,272.8 L569.0,272.3 L571.0,271.7 L573.0,271.1 L575.0,270.5 L577.0,269.9 L579.0,269.3 L581.0,268.7 L583.0,268.0 L585.0,267.4 L587.0,266.8 L589.0,266.3 L591.0,265.7 L593.0,265.2 L595.0,264.7 L597.0,264.2 L599.0,263.7 L601.0,263.3 L603.0,262.8 L605.0,262.4 L607.0,261.9 L609.0,261.5 L611.0,261.1 L613.0,260.7 L615.0,260.4 L617.0,260.1 L619.0,259.7 L621.0,259.4 L623.0,258.9 L625.0,258.4 L627.0,257.7 L629.0,256.8 L631.0,255.8 L633.0,254.8 L635.0,253.8 L637.0,252.9 L639.0,252.2 L641.0,251.8 L643.0,251.4 L645.0,251.1 L647.0,250.8 L649.0,250.5 L651.0,250.3 L653.0,250.1 L655.0,249.9 L657.0,249.8 L659.0,249.7 L661.0,249.6 L663.0,249.5 L665.0,249.4 L667.0,249.3 L669.0,249.2 L671.0,249.1 L673.0,248.9 L675.0,248.6 L677.0,248.2 L679.0,247.8 L681.0,247.4 L683.0,246.9 L685.0,246.5 L687.0,246.1 L689.0,245.9 L691.0,245.6 L693.0,245.4 L695.0,245.2 L697.0,245.0 L699.0,244.9 L701.0,244.7 L703.0,244.5 L705.0,244.3 L707.0,244.1 L709.0,243.8 L711.0,243.5 L713.0,243.3 L715.0,243.0 L717.0,242.8 L719.0,242.7 L721.0,242.6 L723.0,242.6 L725.0,242.7 L727.0,242.7 L729.0,242.8 L731.0,242.9 L733.0,243.1 L735.0,243.2 L737.0,243.2 L739.0,243.3 L741.0,243.3 L743.0,243.3 L745.0,243.3 L747.0,243.3 L749.0,243.2 L751.0,243.2 L753.0,243.2 L755.0,243.2 L757.0,243.2 L759.0,243.3 L761.0,243.4 L763.0,243.5 L765.0,243.6 L767.0,243.8 L769.0,244.0 L771.0,244.1 L773.0,244.3 L775.0,244.4 L777.0,244.6 L779.0,244.8 L781.0,244.9 L783.0,245.1 L785.0,245.3 L787.0,245.5 L789.0,245.8 L791.0,246.0 L793.0,246.3 L795.0,246.5 L797.0,246.9 L799.0,247.2 L801.0,247.6 L803.0,247.9 L805.0,248.3 L807.0,248.7 L809.0,249.1 L811.0,249.6 L813.0,250.0 L815.0,250.5 L817.0,250.9 L819.0,251.5 L821.0,252.0 L823.0,252.6 L825.0,253.1 L827.0,253.7 L829.0,254.3 L831.0,254.9 L833.0,255.4 L835.0,256.0 L837.0,256.5 L839.0,257.1 L841.0,257.6 L843.0,258.2 L845.0,258.7 L847.0,259.2 L849.0,259.8 L851.0,260.3 L853.0,260.9 L855.0,261.4 L857.0,262.0 L859.0,262.6 L861.0,263.1 L863.0,263.7 L865.0,264.2 L867.0,264.8 L869.0,265.4 L871.0,266.0 L873.0,266.6 L875.0,267.1 L877.0,267.8 L879.0,268.4 L881.0,269.0 L883.0,269.6 L885.0,270.3 L887.0,271.0 L889.0,271.6 L891.0,272.3 L893.0,273.0 L895.0,273.7 L897.0,274.5 L899.0,275.2 L901.0,276.0 L903.0,276.8 L905.0,277.7 L907.0,278.5 L909.0,279.4 L911.0,280.4 L913.0,281.3 L915.0,282.2 L917.0,283.2 L919.0,284.1 L921.0,285.0 L923.0,285.9 L925.0,286.8 L927.0,287.7 L929.0,288.5 L931.0,289.4 L933.0,290.3 L935.0,291.2 L937.0,292.1 L939.0,293.0 L941.0,293.8" stroke="#8f8f8f" stroke-width="3"/>
<path d="M99.0,521.1 L101.0,518.9 L103.0,516.7 L105.0,514.5 L107.0,512.3 L109.0,510.1 L111.0,507.9 L113.0,505.7 L115.0,503.6 L117.0,501.5 L119.0,499.4 L121.0,497.4 L123.0,495.4 L125.0,493.5 L127.0,491.7 L129.0,489.8 L131.0,488.0 L133.0,486.3 L135.0,484.5 L137.0,482.8 L139.0,481.1 L141.0,479.5 L143.0,477.9 L145.0,476.3 L147.0,474.8 L149.0,473.2 L151.0,471.7 L153.0,470.2 L155.0,468.6 L157.0,467.1 L159.0,465.5 L161.0,463.9 L163.0,462.2 L165.0,460.6 L167.0,458.9 L169.0,457.2 L171.0,455.5 L173.0,453.6 L175.0,451.7 L177.0,449.7 L179.0,447.5 L181.0,445.2 L183.0,442.9 L185.0,440.4 L187.0,438.0 L189.0,435.5 L191.0,433.1 L193.0,430.7 L195.0,428.3 L197.0,425.9 L199.0,423.6 L201.0,421.2 L203.0,418.8 L205.0,416.4 L207.0,414.0 L209.0,411.7 L211.0,409.4 L213.0,407.2 L215.0,405.0 L217.0,402.9 L219.0,400.8 L221.0,398.8 L223.0,396.8 L225.0,394.8 L227.0,392.9 L229.0,391.1 L231.0,389.2 L233.0,387.5 L235.0,385.7 L237.0,384.0 L239.0,382.4 L241.0,380.7 L243.0,379.0 L245.0,377.3 L247.0,375.6 L249.0,373.9 L251.0,372.1 L253.0,370.3 L255.0,368.4 L257.0,366.5 L259.0,364.7 L261.0,362.9 L263.0,361.1 L265.0,359.4 L267.0,357.7 L269.0,356.0 L271.0,354.4 L273.0,352.8 L275.0,351.2 L277.0,349.6 L279.0,347.9 L281.0,346.3 L283.0,344.8 L285.0,343.5 L287.0,342.4 L289.0,341.6 L291.0,340.9 L293.0,340.2 L295.0,339.5 L297.0,339.0 L299.0,338.5 L301.0,338.2 L303.0,338.0 L305.0,338.0 L307.0,338.4 L309.0,338.9 L311.0,339.5 L313.0,340.1 L315.0,340.6 L317.0,341.0 L319.0,341.0 L321.0,340.9 L323.0,340.8 L325.0,340.5 L327.0,340.3 L329.0,339.9 L331.0,339.6 L333.0,339.2 L335.0,338.8 L337.0,338.1 L339.0,337.2 L341.0,336.2 L343.0,335.0 L345.0,333.8 L347.0,332.6 L349.0,331.5 L351.0,330.5 L353.0,329.6 L355.0,328.6 L357.0,327.7 L359.0,326.8 L361.0,325.7 L363.0,324.6 L365.0,323.3 L367.0,321.9 L369.0,320.3 L371.0,318.6 L373.0,316.8 L375.0,314.9 L377.0,313.0 L379.0,311.0 L381.0,308.9 L383.0,306.7 L385.0,304.5 L387.0,302.2 L389.0,299.8 L391.0,297.1 L393.0,294.3 L395.0,291.6 L397.0,289.0 L399.0,286.9 L401.0,285.2 L403.0,283.8 L405.0,282.6 L407.0,281.4 L409.0,280.4 L411.0,279.4 L413.0,278.4 L415.0,277.5 L417.0,276.5 L419.0,275.5 L421.0,274.5 L423.0,273.4 L425.0,272.4 L427.0,271.4 L429.0,270.4 L431.0,269.3 L433.0,268.2 L435.0,267.0 L437.0,265.7 L439.0,264.3 L441.0,262.8 L443.0,261.3 L445.0,259.7 L447.0,258.2 L449.0,256.7 L451.0,255.3 L453.0,253.9 L455.0,252.6 L457.0,251.2 L459.0,249.9 L461.0,248.6 L463.0,247.4 L465.0,246.1 L467.0,244.9 L469.0,243.6 L471.0,242.5 L473.0,241.4 L475.0,240.4 L477.0,239.6 L479.0,238.9 L481.0,238.2 L483.0,237.7 L485.0,237.1 L487.0,236.6 L489.0,236.0 L491.0,235.4 L493.0,234.8 L495.0,234.0 L497.0,233.2 L499.0,232.4 L501.0,231.5 L503.0,230.6 L505.0,229.7 L507.0,228.8 L509.0,228.0 L511.0,227.1 L513.0,226.2 L515.0,225.3 L517.0,224.5 L519.0,223.8 L521.0,223.4 L523.0,223.0 L525.0,222.7 L527.0,222.4 L529.0,222.2 L531.0,221.9 L533.0,221.7 L535.0,221.4 L537.0,221.2 L539.0,220.8 L541.0,220.5 L543.0,220.1 L545.0,219.7 L547.0,219.3 L549.0,218.9 L551.0,218.6 L553.0,218.2 L555.0,217.8 L557.0,217.4 L559.0,216.9 L561.0,216.5 L563.0,216.2 L565.0,216.0 L567.0,216.0 L569.0,216.4 L571.0,216.9 L573.0,217.4 L575.0,217.8 L577.0,218.2 L579.0,218.6 L581.0,218.9 L583.0,219.2 L585.0,219.4 L587.0,219.3 L589.0,218.9 L591.0,218.2 L593.0,217.3 L595.0,216.4 L597.0,215.5 L599.0,214.8 L601.0,214.4 L603.0,214.2 L605.0,213.9 L607.0,213.7 L609.0,213.5 L611.0,213.4 L613.0,213.2 L615.0,212.9 L617.0,212.7 L619.0,212.4 L621.0,212.1 L623.0,211.7 L625.0,211.4 L627.0,211.0 L629.0,210.6 L631.0,210.2 L633.0,209.8 L635.0,209.3 L637.0,208.8 L639.0,208.3 L641.0,207.7 L643.0,207.1 L645.0,206.5 L647.0,205.9 L649.0,205.3 L651.0,204.7 L653.0,204.0 L655.0,203.4 L657.0,202.7 L659.0,202.0 L661.0,201.3 L663.0,200.4 L665.0,199.5 L667.0,198.5 L669.0,197.4 L671.0,196.2 L673.0,194.9 L675.0,193.6 L677.0,192.3 L679.0,191.0 L681.0,189.7 L683.0,188.3 L685.0,186.8 L687.0,185.3 L689.0,183.9 L691.0,182.4 L693.0,181.0 L695.0,179.7 L697.0,178.4 L699.0,177.1 L701.0,175.8 L703.0,174.6 L705.0,173.4 L707.0,172.3 L709.0,171.2 L711.0,169.9 L713.0,168.7 L715.0,167.7 L717.0,166.9 L719.0,166.5 L721.0,166.6 L723.0,166.8 L725.0,167.3 L727.0,167.8 L729.0,168.3 L731.0,168.9 L733.0,169.4 L735.0,169.9 L737.0,170.4 L739.0,170.9 L741.0,171.4 L743.0,171.9 L745.0,172.4 L747.0,172.8 L749.0,173.2 L751.0,173.4 L753.0,173.7 L755.0,173.9 L757.0,174.1 L759.0,174.4 L761.0,174.6 L763.0,175.0 L765.0,175.5 L767.0,176.2 L769.0,177.1 L771.0,178.2 L773.0,179.5 L775.0,180.7 L777.0,182.0 L779.0,183.4 L781.0,185.0 L783.0,186.8 L785.0,188.4 L787.0,189.9 L789.0,191.0 L791.0,191.8 L793.0,192.5 L795.0,193.2 L797.0,193.7 L799.0,194.2 L801.0,194.6 L803.0,194.9 L805.0,195.2 L807.0,195.5 L809.0,195.8 L811.0,196.2 L813.0,196.6 L815.0,197.0 L817.0,197.5 L819.0,198.0 L821.0,198.6 L823.0,199.2 L825.0,199.9 L827.0,200.8 L829.0,201.7 L831.0,202.8 L833.0,204.0 L835.0,205.2 L837.0,206.4 L839.0,207.7 L841.0,209.0 L843.0,210.5 L845.0,212.1 L847.0,213.6 L849.0,215.0 L851.0,216.2 L853.0,217.3 L855.0,218.3 L857.0,219.2 L859.0,220.2 L861.0,221.1 L863.0,222.0 L865.0,223.0 L867.0,224.0 L869.0,224.9 L871.0,225.9 L873.0,226.9 L875.0,227.8 L877.0,228.8 L879.0,229.7 L881.0,230.6 L883.0,231.5 L885.0,232.4 L887.0,233.3 L889.0,234.2 L891.0,235.1 L893.0,235.9 L895.0,236.6 L897.0,237.3 L899.0,237.9 L901.0,238.5 L903.0,239.0 L905.0,239.6 L907.0,240.0 L909.0,240.4 L911.0,240.7 L913.0,240.9 L915.0,241.2 L917.0,241.6 L919.0,242.0 L921.0,242.6 L923.0,243.5 L925.0,244.6 L927.0,245.7 L929.0,246.9 L931.0,248.0 L933.0,249.1 L935.0,250.2 L937.0,251.3 L939.0,252.4 L941.0,253.6" stroke="#8c564b" stroke-width="3" stroke-dasharray="8,8"/>
<path d="M99.0,572.9 L101.0,571.5 L103.0,570.1 L105.0,568.8 L107.0,567.4 L109.0,566.1 L111.0,564.7 L113.0,563.2 L115.0,561.7 L117.0,560.1 L119.0,558.5 L121.0,556.8 L123.0,555.1 L125.0,553.3 L127.0,551.5 L129.0,549.7 L131.0,547.8 L133.0,545.9 L135.0,544.0 L137.0,542.1 L139.0,540.1 L141.0,538.1 L143.0,536.0 L145.0,533.9 L147.0,531.7 L149.0,529.5 L151.0,527.3 L153.0,525.0 L155.0,522.7 L157.0,520.5 L159.0,518.1 L161.0,515.7 L163.0,513.2 L165.0,510.7 L167.0,508.1 L169.0,505.5 L171.0,502.9 L173.0,500.3 L175.0,497.7 L177.0,495.2 L179.0,492.7 L181.0,490.3 L183.0,488.0 L185.0,485.8 L187.0,483.7 L189.0,481.7 L191.0,479.9 L193.0,478.1 L195.0,476.5 L197.0,474.9 L199.0,473.5 L201.0,472.2 L203.0,471.0 L205.0,469.9 L207.0,468.8 L209.0,467.7 L211.0,466.6 L213.0,465.5 L215.0,464.4 L217.0,463.2 L219.0,461.8 L221.0,460.4 L223.0,459.0 L225.0,457.5 L227.0,455.9 L229.0,454.2 L231.0,452.4 L233.0,450.4 L235.0,448.2 L237.0,446.0 L239.0,443.6 L241.0,441.2 L243.0,438.8 L245.0,436.5 L247.0,434.2 L249.0,432.0 L251.0,430.0 L253.0,428.0 L255.0,426.0 L257.0,424.3 L259.0,422.8 L261.0,421.5 L263.0,420.3 L265.0,419.1 L267.0,417.9 L269.0,416.6 L271.0,415.3 L273.0,414.0 L275.0,412.6 L277.0,411.2 L279.0,409.8 L281.0,408.2 L283.0,406.6 L285.0,404.9 L287.0,403.1 L289.0,401.2 L291.0,399.3 L293.0,397.4 L295.0,395.6 L297.0,393.7 L299.0,391.9 L301.0,390.1 L303.0,388.2 L305.0,386.3 L307.0,384.4 L309.0,382.6 L311.0,381.0 L313.0,379.6 L315.0,378.5 L317.0,377.6 L319.0,376.8 L321.0,376.1 L323.0,375.5 L325.0,374.9 L327.0,374.2 L329.0,373.4 L331.0,372.5 L333.0,371.4 L335.0,370.1 L337.0,368.5 L339.0,366.8 L341.0,364.9 L343.0,363.0 L345.0,360.9 L347.0,358.5 L349.0,356.1 L351.0,353.6 L353.0,351.2 L355.0,348.8 L357.0,346.3 L359.0,343.8 L361.0,341.4 L363.0,339.0 L365.0,336.9 L367.0,335.1 L369.0,333.5 L371.0,332.0 L373.0,330.6 L375.0,329.3 L377.0,328.0 L379.0,326.7 L381.0,325.3 L383.0,324.0 L385.0,322.8 L387.0,321.5 L389.0,320.3 L391.0,319.0 L393.0,317.7 L395.0,316.3 L397.0,314.8 L399.0,313.1 L401.0,311.5 L403.0,309.8 L405.0,308.2 L407.0,306.8 L409.0,305.5 L411.0,304.5 L413.0,303.5 L415.0,302.6 L417.0,301.7 L419.0,300.8 L421.0,300.0 L423.0,299.3 L425.0,298.7 L427.0,298.2 L429.0,297.8 L431.0,297.5 L433.0,297.2 L435.0,297.0 L437.0,296.9 L439.0,296.7 L441.0,296.5 L443.0,296.3 L445.0,296.0 L447.0,295.8 L449.0,295.5 L451.0,295.2 L453.0,294.8 L455.0,294.3 L457.0,293.6 L459.0,292.8 L461.0,292.0 L463.0,291.0 L465.0,289.9 L467.0,288.8 L469.0,287.6 L471.0,286.5 L473.0,285.5 L475.0,284.5 L477.0,283.6 L479.0,282.8 L481.0,281.9 L483.0,281.1 L485.0,280.4 L487.0,279.7 L489.0,279.1 L491.0,278.6 L493.0,278.2 L495.0,277.8 L497.0,277.3 L499.0,276.7 L501.0,276.1 L503.0,275.3 L505.0,274.6 L507.0,273.8 L509.0,273.0 L511.0,272.1 L513.0,271.2 L515.0,270.3 L517.0,269.4 L519.0,268.6 L521.0,267.6 L523.0,266.7 L525.0,265.7 L527.0,264.7 L529.0,263.7 L531.0,262.6 L533.0,261.5 L535.0,260.4 L537.0,259.2 L539.0,257.9 L541.0,256.5 L543.0,255.2 L545.0,254.0 L547.0,252.9 L549.0,252.0 L551.0,251.2 L553.0,250.5 L555.0,249.8 L557.0,249.2 L559.0,248.6 L561.0,248.0 L563.0,247.4 L565.0,246.7 L567.0,246.0 L569.0,245.2 L571.0,244.3 L573.0,243.4 L575.0,242.4 L577.0,241.4 L579.0,240.4 L581.0,239.5 L583.0,238.5 L585.0,237.5 L587.0,236.4 L589.0,235.4 L591.0,234.4 L593.0,233.5 L595.0,232.9 L597.0,232.4 L599.0,231.9 L601.0,231.5 L603.0,231.2 L605.0,231.0 L607.0,230.8 L609.0,230.9 L611.0,231.2 L613.0,231.7 L615.0,232.3 L617.0,233.1 L619.0,234.0 L621.0,235.0 L623.0,236.0 L625.0,237.0 L627.0,237.8 L629.0,238.8 L631.0,239.8 L633.0,240.7 L635.0,241.4 L637.0,241.6 L639.0,241.5 L641.0,241.2 L643.0,240.7 L645.0,240.2 L647.0,239.7 L649.0,239.2 L651.0,238.8 L653.0,238.3 L655.0,237.8 L657.0,237.3 L659.0,236.9 L661.0,236.6 L663.0,236.6 L665.0,236.6 L667.0,236.6 L669.0,236.6 L671.0,236.6 L673.0,236.7 L675.0,237.2 L677.0,238.1 L679.0,239.0 L681.0,239.8 L683.0,240.6 L685.0,241.4 L687.0,242.3 L689.0,243.1 L691.0,244.0 L693.0,244.8 L695.0,245.8 L697.0,246.8 L699.0,247.7 L701.0,248.6 L703.0,249.4 L705.0,249.9 L707.0,250.1 L709.0,250.3 L711.0,250.4 L713.0,250.5 L715.0,250.6 L717.0,250.6 L719.0,250.6 L721.0,250.5 L723.0,250.5 L725.0,250.5 L727.0,250.4 L729.0,250.4 L731.0,250.3 L733.0,250.3 L735.0,250.3 L737.0,250.2 L739.0,250.2 L741.0,250.3 L743.0,250.7 L745.0,251.4 L747.0,252.2 L749.0,253.1 L751.0,254.0 L753.0,254.8 L755.0,255.5 L757.0,256.4 L759.0,257.2 L761.0,258.0 L763.0,258.8 L765.0,259.5 L767.0,260.2 L769.0,260.8 L771.0,261.2 L773.0,261.5 L775.0,261.8 L777.0,262.0 L779.0,262.2 L781.0,262.4 L783.0,262.6 L785.0,262.7 L787.0,262.9 L789.0,263.1 L791.0,263.4 L793.0,263.7 L795.0,264.0 L797.0,264.5 L799.0,265.2 L801.0,266.1 L803.0,267.1 L805.0,268.1 L807.0,269.2 L809.0,270.1 L811.0,271.0 L813.0,271.8 L815.0,272.7 L817.0,273.5 L819.0,274.3 L821.0,275.1 L823.0,275.6 L825.0,276.0 L827.0,276.2 L829.0,276.5 L831.0,276.6 L833.0,276.8 L835.0,276.9 L837.0,277.0 L839.0,277.1 L841.0,277.2 L843.0,277.3 L845.0,277.3 L847.0,277.4 L849.0,277.4 L851.0,277.3 L853.0,276.9 L855.0,276.5 L857.0,276.1 L859.0,276.0 L861.0,276.0 L863.0,276.1 L865.0,276.2 L867.0,276.4 L869.0,276.6 L871.0,277.0 L873.0,277.9 L875.0,279.0 L877.0,280.2 L879.0,281.6 L881.0,282.9 L883.0,284.0 L885.0,285.0 L887.0,286.0 L889.0,286.9 L891.0,287.8 L893.0,288.7 L895.0,289.7 L897.0,290.6 L899.0,291.6 L901.0,292.7 L903.0,293.8 L905.0,295.0 L907.0,296.3 L909.0,297.9 L911.0,299.5 L913.0,301.2 L915.0,302.9 L917.0,304.7 L919.0,306.4 L921.0,308.0 L923.0,309.6 L925.0,311.2 L927.0,312.8 L929.0,314.3 L931.0,315.8 L933.0,317.0 L935.0,318.0 L937.0,319.0 L939.0,319.8 L941.0,320.8" stroke="#a716b4" stroke-width="3"/>
<path d="M99.0,631.1 L101.0,629.6 L103.0,628.1 L105.0,626.6 L107.0,625.0 L109.0,623.1 L111.0,620.9 L113.0,618.6 L115.0,616.3 L117.0,614.0 L119.0,611.8 L121.0,609.5 L123.0,607.3 L125.0,605.1 L127.0,603.0 L129.0,601.0 L131.0,599.1 L133.0,597.2 L135.0,595.4 L137.0,593.7 L139.0,592.0 L141.0,590.4 L143.0,588.9 L145.0,587.4 L147.0,585.9 L149.0,584.5 L151.0,583.0 L153.0,581.6 L155.0,580.0 L157.0,578.4 L159.0,576.8 L161.0,575.1 L163.0,573.4 L165.0,571.8 L167.0,570.0 L169.0,568.3 L171.0,566.6 L173.0,564.8 L175.0,563.0 L177.0,561.2 L179.0,559.2 L181.0,557.2 L183.0,555.2 L185.0,553.2 L187.0,551.2 L189.0,549.4 L191.0,547.6 L193.0,546.0 L195.0,544.5 L197.0,543.1 L199.0,541.7 L201.0,540.5 L203.0,539.2 L205.0,538.1 L207.0,537.0 L209.0,536.0 L211.0,535.1 L213.0,534.3 L215.0,533.5 L217.0,532.7 L219.0,531.9 L221.0,531.0 L223.0,530.0 L225.0,528.9 L227.0,527.6 L229.0,526.2 L231.0,524.7 L233.0,523.2 L235.0,521.4 L237.0,519.6 L239.0,517.6 L241.0,515.4 L243.0,512.9 L245.0,510.3 L247.0,507.6 L249.0,504.8 L251.0,502.0 L253.0,499.2 L255.0,496.5 L257.0,493.8 L259.0,491.3 L261.0,489.0 L263.0,487.0 L265.0,485.0 L267.0,483.0 L269.0,481.1 L271.0,479.3 L273.0,477.5 L275.0,475.8 L277.0,474.1 L279.0,472.5 L281.0,470.9 L283.0,469.3 L285.0,467.8 L287.0,466.2 L289.0,464.8 L291.0,463.4 L293.0,462.0 L295.0,460.7 L297.0,459.4 L299.0,458.1 L301.0,456.8 L303.0,455.5 L305.0,454.1 L307.0,452.7 L309.0,451.2 L311.0,449.7 L313.0,448.0 L315.0,446.4 L317.0,444.6 L319.0,442.9 L321.0,441.3 L323.0,439.6 L325.0,438.1 L327.0,436.7 L329.0,435.4 L331.0,434.2 L333.0,433.1 L335.0,432.1 L337.0,431.1 L339.0,430.1 L341.0,429.1 L343.0,428.0 L345.0,426.9 L347.0,425.7 L349.0,424.3 L351.0,422.8 L353.0,421.1 L355.0,419.4 L357.0,417.6 L359.0,415.7 L361.0,413.9 L363.0,412.1 L365.0,410.2 L367.0,408.2 L369.0,406.2 L371.0,404.2 L373.0,402.2 L375.0,400.4 L377.0,398.7 L379.0,397.3 L381.0,395.9 L383.0,394.5 L385.0,393.3 L387.0,392.4 L389.0,391.7 L391.0,391.1 L393.0,390.6 L395.0,390.2 L397.0,389.8 L399.0,389.5 L401.0,389.2 L403.0,388.9 L405.0,388.6 L407.0,388.2 L409.0,387.8 L411.0,387.3 L413.0,386.7 L415.0,386.0 L417.0,385.1 L419.0,384.0 L421.0,382.7 L423.0,381.3 L425.0,379.8 L427.0,378.2 L429.0,376.2 L431.0,374.0 L433.0,371.7 L435.0,369.3 L437.0,367.1 L439.0,365.0 L441.0,362.9 L443.0,360.9 L445.0,358.9 L447.0,356.9 L449.0,354.9 L451.0,353.0 L453.0,351.0 L455.0,349.0 L457.0,346.9 L459.0,344.9 L461.0,343.0 L463.0,341.2 L465.0,339.7 L467.0,338.4 L469.0,337.2 L471.0,336.1 L473.0,335.1 L475.0,334.2 L477.0,333.5 L479.0,332.8 L481.0,332.4 L483.0,332.0 L485.0,331.7 L487.0,331.5 L489.0,331.2 L491.0,331.0 L493.0,330.8 L495.0,330.5 L497.0,330.2 L499.0,329.8 L501.0,329.4 L503.0,328.9 L505.0,328.4 L507.0,327.9 L509.0,327.3 L511.0,326.7 L513.0,326.0 L515.0,325.4 L517.0,324.6 L519.0,323.8 L521.0,322.8 L523.0,321.8 L525.0,320.7 L527.0,319.6 L529.0,318.5 L531.0,317.4 L533.0,316.3 L535.0,315.3 L537.0,314.4 L539.0,313.6 L541.0,312.9 L543.0,312.2 L545.0,311.6 L547.0,311.0 L549.0,310.4 L551.0,309.8 L553.0,309.2 L555.0,308.6 L557.0,307.9 L559.0,307.2 L561.0,306.4 L563.0,305.5 L565.0,304.4 L567.0,303.2 L569.0,301.9 L571.0,300.5 L573.0,299.1 L575.0,297.7 L577.0,296.5 L579.0,295.5 L581.0,294.6 L583.0,293.7 L585.0,292.8 L587.0,292.0 L589.0,291.3 L591.0,290.7 L593.0,290.4 L595.0,290.4 L597.0,290.5 L599.0,290.5 L601.0,290.6 L603.0,290.8 L605.0,290.9 L607.0,290.9 L609.0,291.0 L611.0,291.0 L613.0,290.8 L615.0,290.4 L617.0,289.9 L619.0,289.4 L621.0,288.7 L623.0,288.0 L625.0,287.3 L627.0,286.6 L629.0,285.8 L631.0,284.9 L633.0,283.8 L635.0,282.7 L637.0,281.6 L639.0,280.5 L641.0,279.5 L643.0,278.5 L645.0,277.6 L647.0,276.7 L649.0,275.7 L651.0,274.8 L653.0,273.9 L655.0,273.0 L657.0,272.1 L659.0,271.2 L661.0,270.4 L663.0,269.5 L665.0,268.5 L667.0,267.5 L669.0,266.4 L671.0,265.3 L673.0,264.2 L675.0,263.1 L677.0,262.2 L679.0,261.3 L681.0,260.6 L683.0,260.1 L685.0,259.9 L687.0,259.7 L689.0,259.5 L691.0,259.4 L693.0,259.4 L695.0,259.5 L697.0,259.6 L699.0,259.8 L701.0,260.0 L703.0,260.3 L705.0,260.5 L707.0,260.8 L709.0,261.1 L711.0,261.3 L713.0,261.5 L715.0,261.7 L717.0,262.0 L719.0,262.2 L721.0,262.5 L723.0,262.7 L725.0,263.0 L727.0,263.2 L729.0,263.4 L731.0,263.6 L733.0,263.8 L735.0,263.9 L737.0,264.1 L739.0,264.1 L741.0,264.2 L743.0,264.3 L745.0,264.3 L747.0,264.4 L749.0,264.4 L751.0,264.5 L753.0,264.6 L755.0,264.7 L757.0,264.8 L759.0,265.1 L761.0,265.7 L763.0,266.5 L765.0,267.5 L767.0,268.4 L769.0,269.3 L771.0,270.0 L773.0,270.7 L775.0,271.3 L777.0,272.0 L779.0,272.6 L781.0,273.0 L783.0,273.2 L785.0,273.3 L787.0,273.3 L789.0,273.4 L791.0,273.4 L793.0,273.4 L795.0,273.4 L797.0,273.5 L799.0,273.5 L801.0,273.5 L803.0,273.6 L805.0,273.6 L807.0,273.6 L809.0,273.7 L811.0,273.8 L813.0,273.8 L815.0,273.9 L817.0,273.9 L819.0,274.0 L821.0,274.1 L823.0,274.2 L825.0,274.3 L827.0,274.5 L829.0,274.6 L831.0,274.9 L833.0,275.4 L835.0,276.1 L837.0,277.0 L839.0,277.9 L841.0,278.9 L843.0,280.0 L845.0,281.0 L847.0,282.0 L849.0,283.0 L851.0,284.0 L853.0,285.1 L855.0,286.2 L857.0,287.3 L859.0,288.4 L861.0,289.6 L863.0,290.7 L865.0,291.9 L867.0,293.0 L869.0,294.1 L871.0,295.3 L873.0,296.4 L875.0,297.6 L877.0,298.7 L879.0,299.8 L881.0,300.9 L883.0,302.0 L885.0,303.0 L887.0,304.0 L889.0,304.8 L891.0,305.7 L893.0,306.5 L895.0,307.3 L897.0,308.1 L899.0,309.0 L901.0,309.8 L903.0,310.7 L905.0,311.6 L907.0,312.6 L909.0,313.7 L911.0,314.8 L913.0,316.1 L915.0,317.3 L917.0,318.6 L919.0,319.8 L921.0,321.0 L923.0,322.1 L925.0,323.3 L927.0,324.4 L929.0,325.4 L931.0,326.5 L933.0,327.6 L935.0,328.7 L937.0,329.8 L939.0,330.9 L941.0,331.9" stroke="#b05a2a" stroke-width="3"/>
<path d="M99.0,673.0 L101.0,671.0 L103.0,669.0 L105.0,667.0 L107.0,665.0 L109.0,663.0 L111.0,661.0 L113.0,659.0 L115.0,656.9 L117.0,654.8 L119.0,652.8 L121.0,651.0 L123.0,649.3 L125.0,647.7 L127.0,646.1 L129.0,644.6 L131.0,643.1 L133.0,641.7 L135.0,640.3 L137.0,639.0 L139.0,637.7 L141.0,636.5 L143.0,635.4 L145.0,634.2 L147.0,633.0 L149.0,631.7 L151.0,630.3 L153.0,628.9 L155.0,627.5 L157.0,626.1 L159.0,625.0 L161.0,624.0 L163.0,623.3 L165.0,622.7 L167.0,622.0 L169.0,621.1 L171.0,620.0 L173.0,618.8 L175.0,617.5 L177.0,616.2 L179.0,614.8 L181.0,613.4 L183.0,612.0 L185.0,610.6 L187.0,609.2 L189.0,607.7 L191.0,606.1 L193.0,604.6 L195.0,603.1 L197.0,601.5 L199.0,600.0 L201.0,598.5 L203.0,596.9 L205.0,595.4 L207.0,593.9 L209.0,592.3 L211.0,590.8 L213.0,589.4 L215.0,588.0 L217.0,586.7 L219.0,585.4 L221.0,584.1 L223.0,582.9 L225.0,581.7 L227.0,580.5 L229.0,579.3 L231.0,578.0 L233.0,576.7 L235.0,575.3 L237.0,573.9 L239.0,572.6 L241.0,571.3 L243.0,570.0 L245.0,568.8 L247.0,567.7 L249.0,566.7 L251.0,565.6 L253.0,564.6 L255.0,563.5 L257.0,562.3 L259.0,561.0 L261.0,559.5 L263.0,557.9 L265.0,556.2 L267.0,554.6 L269.0,553.0 L271.0,551.5 L273.0,550.0 L275.0,548.5 L277.0,547.2 L279.0,546.0 L281.0,545.0 L283.0,544.1 L285.0,543.4 L287.0,543.0 L289.0,542.8 L291.0,542.7 L293.0,542.6 L295.0,542.3 L297.0,541.7 L299.0,541.0 L301.0,539.9 L303.0,538.2 L305.0,536.5 L307.0,534.8 L309.0,532.9 L311.0,531.0 L313.0,529.0 L315.0,526.9 L317.0,524.8 L319.0,522.7 L321.0,520.6 L323.0,518.5 L325.0,516.4 L327.0,514.4 L329.0,512.5 L331.0,510.6 L333.0,508.9 L335.0,507.3 L337.0,505.8 L339.0,504.3 L341.0,502.7 L343.0,501.0 L345.0,499.1 L347.0,497.0 L349.0,494.8 L351.0,492.5 L353.0,490.1 L355.0,487.7 L357.0,485.4 L359.0,483.0 L361.0,480.8 L363.0,478.6 L365.0,476.3 L367.0,474.0 L369.0,471.8 L371.0,469.7 L373.0,467.8 L375.0,466.2 L377.0,464.8 L379.0,463.5 L381.0,462.2 L383.0,461.0 L385.0,459.9 L387.0,458.8 L389.0,457.8 L391.0,456.7 L393.0,455.6 L395.0,454.4 L397.0,453.3 L399.0,452.3 L401.0,451.2 L403.0,450.2 L405.0,449.1 L407.0,448.0 L409.0,446.9 L411.0,445.8 L413.0,444.6 L415.0,443.4 L417.0,442.0 L419.0,440.6 L421.0,439.1 L423.0,437.6 L425.0,436.1 L427.0,434.7 L429.0,433.3 L431.0,431.9 L433.0,430.5 L435.0,429.3 L437.0,428.1 L439.0,427.1 L441.0,426.2 L443.0,425.4 L445.0,424.6 L447.0,423.9 L449.0,423.3 L451.0,422.7 L453.0,422.2 L455.0,421.7 L457.0,421.3 L459.0,420.8 L461.0,420.4 L463.0,419.9 L465.0,419.4 L467.0,418.9 L469.0,418.3 L471.0,417.7 L473.0,417.1 L475.0,416.4 L477.0,415.8 L479.0,415.2 L481.0,414.6 L483.0,414.1 L485.0,413.6 L487.0,413.3 L489.0,413.0 L491.0,412.7 L493.0,412.5 L495.0,412.4 L497.0,412.2 L499.0,412.1 L501.0,411.9 L503.0,411.7 L505.0,411.5 L507.0,411.2 L509.0,410.9 L511.0,410.4 L513.0,409.5 L515.0,408.3 L517.0,406.9 L519.0,405.2 L521.0,403.2 L523.0,401.0 L525.0,398.8 L527.0,396.5 L529.0,394.2 L531.0,392.2 L533.0,390.3 L535.0,388.5 L537.0,386.9 L539.0,385.3 L541.0,383.8 L543.0,382.5 L545.0,381.4 L547.0,380.4 L549.0,379.6 L551.0,378.7 L553.0,377.9 L555.0,376.9 L557.0,375.8 L559.0,374.4 L561.0,372.8 L563.0,371.0 L565.0,369.3 L567.0,367.7 L569.0,366.3 L571.0,365.1 L573.0,363.9 L575.0,362.8 L577.0,361.7 L579.0,360.6 L581.0,359.6 L583.0,358.6 L585.0,357.5 L587.0,356.5 L589.0,355.5 L591.0,354.5 L593.0,353.5 L595.0,352.6 L597.0,351.7 L599.0,350.7 L601.0,349.7 L603.0,348.7 L605.0,347.6 L607.0,346.4 L609.0,345.1 L611.0,343.8 L613.0,342.4 L615.0,341.0 L617.0,339.7 L619.0,338.4 L621.0,337.2 L623.0,336.0 L625.0,334.7 L627.0,333.3 L629.0,331.6 L631.0,329.7 L633.0,327.8 L635.0,326.0 L637.0,324.2 L639.0,322.7 L641.0,321.4 L643.0,320.1 L645.0,318.9 L647.0,317.9 L649.0,317.2 L651.0,316.9 L653.0,316.7 L655.0,316.5 L657.0,316.4 L659.0,316.4 L661.0,316.7 L663.0,317.1 L665.0,317.6 L667.0,318.0 L669.0,318.3 L671.0,318.4 L673.0,318.5 L675.0,318.5 L677.0,318.5 L679.0,318.5 L681.0,318.5 L683.0,318.5 L685.0,318.6 L687.0,318.6 L689.0,318.9 L691.0,319.3 L693.0,319.8 L695.0,320.3 L697.0,321.0 L699.0,321.6 L701.0,322.1 L703.0,322.7 L705.0,323.2 L707.0,323.8 L709.0,324.4 L711.0,324.9 L713.0,325.5 L715.0,326.0 L717.0,326.4 L719.0,326.8 L721.0,327.1 L723.0,327.3 L725.0,327.5 L727.0,327.8 L729.0,328.2 L731.0,328.7 L733.0,329.3 L735.0,330.0 L737.0,330.7 L739.0,331.4 L741.0,332.0 L743.0,332.5 L745.0,332.9 L747.0,333.1 L749.0,333.3 L751.0,333.4 L753.0,333.5 L755.0,333.6 L757.0,333.6 L759.0,333.2 L761.0,332.7 L763.0,332.0 L765.0,331.3 L767.0,330.5 L769.0,329.9 L771.0,329.4 L773.0,329.0 L775.0,328.7 L777.0,328.3 L779.0,328.0 L781.0,327.7 L783.0,327.5 L785.0,327.4 L787.0,327.4 L789.0,327.6 L791.0,327.9 L793.0,328.3 L795.0,328.7 L797.0,329.2 L799.0,329.7 L801.0,330.3 L803.0,331.0 L805.0,331.7 L807.0,332.5 L809.0,333.2 L811.0,334.0 L813.0,334.8 L815.0,335.6 L817.0,336.5 L819.0,337.3 L821.0,338.2 L823.0,339.1 L825.0,340.1 L827.0,341.0 L829.0,342.0 L831.0,343.1 L833.0,344.3 L835.0,345.6 L837.0,347.0 L839.0,348.3 L841.0,349.7 L843.0,351.1 L845.0,352.3 L847.0,353.5 L849.0,354.5 L851.0,355.3 L853.0,355.9 L855.0,356.4 L857.0,357.0 L859.0,357.5 L861.0,357.9 L863.0,358.2 L865.0,358.5 L867.0,358.6 L869.0,358.7 L871.0,358.7 L873.0,358.7 L875.0,358.8 L877.0,359.0 L879.0,359.5 L881.0,360.2 L883.0,361.0 L885.0,361.8 L887.0,362.7 L889.0,363.4 L891.0,364.2 L893.0,365.0 L895.0,365.9 L897.0,366.8 L899.0,367.5 L901.0,368.0 L903.0,368.2 L905.0,368.2 L907.0,368.2 L909.0,368.1 L911.0,368.1 L913.0,368.0 L915.0,368.0 L917.0,368.0 L919.0,368.1 L921.0,368.4 L923.0,368.9 L925.0,369.4 L927.0,370.0 L929.0,370.6 L931.0,371.2 L933.0,371.9 L935.0,372.7 L937.0,373.5 L939.0,374.2 L941.0,375.0" stroke="#ff800e" stroke-width="3"/>
<path d="M99.0,630.6 L101.0,629.8 L103.0,629.0 L105.0,628.2 L107.0,627.4 L109.0,626.5 L111.0,625.6 L113.0,624.6 L115.0,623.5 L117.0,622.4 L119.0,621.2 L121.0,620.0 L123.0,618.8 L125.0,617.6 L127.0,616.5 L129.0,615.6 L131.0,614.8 L133.0,614.0 L135.0,613.0 L137.0,611.9 L139.0,610.7 L141.0,609.4 L143.0,608.1 L145.0,606.7 L147.0,605.4 L149.0,604.0 L151.0,602.7 L153.0,601.3 L155.0,600.0 L157.0,598.6 L159.0,597.1 L161.0,595.6 L163.0,594.0 L165.0,592.2 L167.0,590.3 L169.0,588.2 L171.0,586.1 L173.0,584.0 L175.0,582.0 L177.0,580.0 L179.0,577.9 L181.0,575.8 L183.0,573.7 L185.0,571.8 L187.0,570.0 L189.0,568.4 L191.0,566.9 L193.0,565.5 L195.0,564.0 L197.0,562.6 L199.0,561.0 L201.0,559.3 L203.0,557.4 L205.0,555.5 L207.0,553.6 L209.0,551.8 L211.0,550.0 L213.0,548.2 L215.0,546.5 L217.0,544.8 L219.0,543.2 L221.0,542.0 L223.0,541.0 L225.0,540.2 L227.0,539.4 L229.0,538.7 L231.0,538.0 L233.0,537.3 L235.0,536.7 L237.0,536.1 L239.0,535.4 L241.0,534.8 L243.0,534.0 L245.0,533.2 L247.0,532.2 L249.0,531.2 L251.0,530.0 L253.0,528.6 L255.0,527.0 L257.0,525.3 L259.0,523.5 L261.0,521.6 L263.0,519.8 L265.0,518.0 L267.0,516.1 L269.0,514.2 L271.0,512.2 L273.0,510.2 L275.0,508.2 L277.0,506.2 L279.0,504.1 L281.0,502.1 L283.0,500.0 L285.0,498.0 L287.0,496.0 L289.0,494.0 L291.0,492.0 L293.0,490.0 L295.0,488.1 L297.0,486.2 L299.0,484.4 L301.0,482.5 L303.0,480.5 L305.0,478.6 L307.0,476.7 L309.0,474.8 L311.0,473.0 L313.0,471.3 L315.0,469.7 L317.0,468.3 L319.0,467.0 L321.0,465.8 L323.0,464.6 L325.0,463.5 L327.0,462.5 L329.0,461.7 L331.0,461.2 L333.0,460.9 L335.0,460.7 L337.0,460.6 L339.0,460.5 L341.0,460.4 L343.0,460.3 L345.0,460.1 L347.0,459.9 L349.0,459.5 L351.0,459.0 L353.0,458.5 L355.0,457.8 L357.0,457.1 L359.0,456.4 L361.0,455.6 L363.0,454.6 L365.0,453.5 L367.0,452.3 L369.0,451.0 L371.0,449.8 L373.0,448.5 L375.0,447.4 L377.0,446.4 L379.0,445.6 L381.0,444.9 L383.0,444.3 L385.0,443.7 L387.0,443.2 L389.0,442.6 L391.0,442.1 L393.0,441.6 L395.0,441.0 L397.0,440.3 L399.0,439.6 L401.0,438.9 L403.0,438.1 L405.0,437.3 L407.0,436.4 L409.0,435.5 L411.0,434.5 L413.0,433.4 L415.0,432.3 L417.0,431.1 L419.0,429.9 L421.0,428.6 L423.0,427.2 L425.0,425.8 L427.0,424.2 L429.0,422.7 L431.0,421.0 L433.0,419.2 L435.0,417.2 L437.0,415.0 L439.0,412.7 L441.0,410.3 L443.0,407.7 L445.0,404.8 L447.0,401.8 L449.0,398.6 L451.0,395.5 L453.0,392.5 L455.0,389.3 L457.0,386.1 L459.0,383.2 L461.0,380.9 L463.0,378.9 L465.0,377.2 L467.0,375.9 L469.0,374.7 L471.0,373.6 L473.0,372.7 L475.0,371.7 L477.0,370.8 L479.0,369.9 L481.0,369.1 L483.0,368.3 L485.0,367.5 L487.0,366.5 L489.0,365.4 L491.0,364.2 L493.0,362.8 L495.0,361.4 L497.0,359.8 L499.0,358.1 L501.0,356.2 L503.0,354.0 L505.0,351.9 L507.0,349.9 L509.0,348.1 L511.0,346.4 L513.0,344.8 L515.0,343.5 L517.0,342.6 L519.0,341.9 L521.0,341.3 L523.0,340.8 L525.0,340.4 L527.0,339.9 L529.0,339.5 L531.0,339.2 L533.0,338.8 L535.0,338.4 L537.0,338.0 L539.0,337.5 L541.0,337.1 L543.0,336.7 L545.0,336.4 L547.0,336.2 L549.0,336.0 L551.0,336.0 L553.0,336.0 L555.0,336.1 L557.0,336.2 L559.0,336.3 L561.0,336.4 L563.0,336.5 L565.0,336.6 L567.0,336.6 L569.0,336.5 L571.0,336.1 L573.0,335.4 L575.0,334.5 L577.0,333.5 L579.0,332.4 L581.0,331.4 L583.0,330.6 L585.0,329.7 L587.0,328.8 L589.0,327.9 L591.0,327.0 L593.0,326.1 L595.0,325.4 L597.0,324.7 L599.0,324.1 L601.0,323.6 L603.0,323.0 L605.0,322.5 L607.0,322.0 L609.0,321.5 L611.0,321.1 L613.0,320.8 L615.0,320.5 L617.0,320.4 L619.0,320.4 L621.0,320.4 L623.0,320.4 L625.0,320.4 L627.0,320.4 L629.0,320.4 L631.0,320.4 L633.0,320.4 L635.0,320.4 L637.0,320.4 L639.0,320.4 L641.0,320.2 L643.0,319.8 L645.0,319.3 L647.0,318.8 L649.0,318.3 L651.0,317.7 L653.0,317.0 L655.0,316.3 L657.0,315.4 L659.0,314.5 L661.0,313.6 L663.0,312.7 L665.0,311.9 L667.0,311.3 L669.0,310.7 L671.0,310.2 L673.0,309.7 L675.0,309.2 L677.0,308.7 L679.0,308.3 L681.0,308.0 L683.0,307.7 L685.0,307.6 L687.0,307.6 L689.0,307.6 L691.0,307.6 L693.0,307.6 L695.0,307.6 L697.0,307.6 L699.0,307.7 L701.0,307.9 L703.0,308.1 L705.0,308.4 L707.0,308.7 L709.0,309.0 L711.0,309.3 L713.0,309.6 L715.0,309.9 L717.0,310.1 L719.0,310.3 L721.0,310.5 L723.0,310.7 L725.0,310.9 L727.0,311.1 L729.0,311.3 L731.0,311.5 L733.0,311.6 L735.0,311.8 L737.0,311.9 L739.0,312.0 L741.0,312.0 L743.0,312.1 L745.0,312.1 L747.0,312.2 L749.0,312.2 L751.0,312.3 L753.0,312.3 L755.0,312.3 L757.0,312.3 L759.0,312.2 L761.0,311.8 L763.0,311.2 L765.0,310.7 L767.0,310.1 L769.0,309.7 L771.0,309.6 L773.0,309.6 L775.0,309.7 L777.0,309.8 L779.0,309.9 L781.0,310.0 L783.0,310.2 L785.0,310.4 L787.0,310.6 L789.0,311.1 L791.0,312.1 L793.0,313.4 L795.0,314.9 L797.0,316.4 L799.0,317.9 L801.0,319.0 L803.0,320.0 L805.0,321.0 L807.0,322.0 L809.0,322.9 L811.0,323.8 L813.0,324.5 L815.0,325.0 L817.0,325.4 L819.0,325.6 L821.0,325.9 L823.0,326.1 L825.0,326.3 L827.0,326.4 L829.0,326.5 L831.0,326.6 L833.0,326.6 L835.0,326.5 L837.0,326.3 L839.0,326.1 L841.0,326.0 L843.0,326.0 L845.0,326.2 L847.0,326.4 L849.0,326.6 L851.0,326.9 L853.0,327.2 L855.0,327.6 L857.0,328.0 L859.0,328.6 L861.0,329.4 L863.0,330.4 L865.0,331.5 L867.0,332.5 L869.0,333.4 L871.0,334.3 L873.0,335.1 L875.0,336.0 L877.0,336.9 L879.0,337.6 L881.0,338.2 L883.0,338.6 L885.0,338.8 L887.0,339.0 L889.0,339.2 L891.0,339.3 L893.0,339.4 L895.0,339.5 L897.0,339.7 L899.0,340.0 L901.0,340.5 L903.0,341.2 L905.0,342.0 L907.0,343.0 L909.0,344.2 L911.0,345.6 L913.0,347.3 L915.0,349.0 L917.0,350.8 L919.0,352.5 L921.0,354.0 L923.0,355.4 L925.0,356.7 L927.0,358.0 L929.0,359.2 L931.0,360.5 L933.0,361.7 L935.0,362.9 L937.0,364.1 L939.0,365.4 L941.0,366.6" stroke="#0a5a2b" stroke-width="3"/>
<path d="M99.0,632.9 L101.0,632.2 L103.0,631.5 L105.0,630.8 L107.0,630.2 L109.0,629.5 L111.0,628.7 L113.0,627.9 L115.0,627.0 L117.0,625.9 L119.0,624.5 L121.0,623.0 L123.0,621.3 L125.0,619.3 L127.0,617.2 L129.0,615.1 L131.0,613.0 L133.0,610.9 L135.0,608.8 L137.0,606.7 L139.0,604.7 L141.0,602.7 L143.0,601.0 L145.0,599.4 L147.0,598.0 L149.0,596.7 L151.0,595.3 L153.0,594.0 L155.0,592.7 L157.0,591.3 L159.0,590.0 L161.0,588.7 L163.0,587.4 L165.0,586.0 L167.0,584.6 L169.0,583.2 L171.0,581.7 L173.0,580.0 L175.0,577.9 L177.0,575.3 L179.0,572.6 L181.0,569.6 L183.0,566.7 L185.0,564.0 L187.0,561.4 L189.0,558.8 L191.0,556.1 L193.0,553.6 L195.0,551.0 L197.0,548.5 L199.0,546.0 L201.0,543.6 L203.0,541.2 L205.0,538.9 L207.0,536.5 L209.0,534.3 L211.0,532.0 L213.0,529.7 L215.0,527.4 L217.0,525.0 L219.0,522.6 L221.0,520.4 L223.0,518.2 L225.0,516.2 L227.0,514.4 L229.0,512.8 L231.0,511.3 L233.0,510.1 L235.0,508.9 L237.0,507.7 L239.0,506.6 L241.0,505.6 L243.0,504.7 L245.0,503.8 L247.0,503.0 L249.0,502.1 L251.0,501.2 L253.0,500.1 L255.0,499.0 L257.0,497.7 L259.0,496.2 L261.0,494.6 L263.0,492.8 L265.0,491.0 L267.0,489.1 L269.0,487.2 L271.0,485.3 L273.0,483.5 L275.0,481.7 L277.0,479.9 L279.0,478.1 L281.0,476.3 L283.0,474.5 L285.0,472.7 L287.0,471.0 L289.0,469.3 L291.0,467.7 L293.0,466.3 L295.0,464.8 L297.0,463.5 L299.0,462.1 L301.0,460.8 L303.0,459.6 L305.0,458.5 L307.0,457.5 L309.0,456.6 L311.0,455.7 L313.0,455.0 L315.0,454.2 L317.0,453.6 L319.0,452.9 L321.0,452.3 L323.0,451.7 L325.0,451.0 L327.0,450.3 L329.0,449.7 L331.0,449.0 L333.0,448.3 L335.0,447.6 L337.0,446.9 L339.0,446.2 L341.0,445.5 L343.0,444.8 L345.0,444.1 L347.0,443.4 L349.0,442.6 L351.0,442.0 L353.0,441.3 L355.0,440.6 L357.0,439.9 L359.0,439.2 L361.0,438.4 L363.0,437.6 L365.0,436.7 L367.0,435.7 L369.0,434.7 L371.0,433.6 L373.0,432.4 L375.0,431.1 L377.0,429.8 L379.0,428.3 L381.0,426.8 L383.0,425.2 L385.0,423.5 L387.0,421.6 L389.0,419.8 L391.0,417.8 L393.0,415.8 L395.0,413.9 L397.0,411.9 L399.0,410.0 L401.0,408.0 L403.0,406.0 L405.0,403.9 L407.0,402.0 L409.0,400.2 L411.0,398.7 L413.0,397.4 L415.0,396.4 L417.0,395.4 L419.0,394.6 L421.0,393.8 L423.0,393.1 L425.0,392.3 L427.0,391.5 L429.0,390.5 L431.0,389.4 L433.0,388.2 L435.0,386.8 L437.0,385.4 L439.0,384.0 L441.0,382.6 L443.0,381.4 L445.0,380.1 L447.0,378.9 L449.0,377.7 L451.0,376.6 L453.0,375.5 L455.0,374.5 L457.0,373.5 L459.0,372.4 L461.0,371.4 L463.0,370.5 L465.0,369.6 L467.0,368.8 L469.0,368.1 L471.0,367.5 L473.0,367.0 L475.0,366.6 L477.0,366.2 L479.0,365.8 L481.0,365.4 L483.0,365.1 L485.0,364.7 L487.0,364.2 L489.0,363.8 L491.0,363.3 L493.0,362.8 L495.0,362.3 L497.0,361.7 L499.0,361.1 L501.0,360.4 L503.0,359.6 L505.0,358.6 L507.0,357.4 L509.0,356.0 L511.0,354.6 L513.0,353.2 L515.0,351.8 L517.0,350.6 L519.0,349.4 L521.0,348.3 L523.0,347.3 L525.0,346.2 L527.0,345.2 L529.0,344.3 L531.0,343.4 L533.0,342.6 L535.0,341.9 L537.0,341.3 L539.0,340.8 L541.0,340.2 L543.0,339.6 L545.0,339.0 L547.0,338.4 L549.0,337.6 L551.0,336.7 L553.0,335.8 L555.0,334.8 L557.0,333.8 L559.0,332.7 L561.0,331.6 L563.0,330.5 L565.0,329.5 L567.0,328.5 L569.0,327.5 L571.0,326.6 L573.0,325.6 L575.0,324.6 L577.0,323.7 L579.0,322.7 L581.0,321.7 L583.0,320.6 L585.0,319.6 L587.0,318.4 L589.0,317.2 L591.0,316.0 L593.0,314.6 L595.0,313.3 L597.0,312.0 L599.0,310.8 L601.0,309.6 L603.0,308.5 L605.0,307.4 L607.0,306.4 L609.0,305.5 L611.0,304.5 L613.0,303.5 L615.0,302.4 L617.0,301.3 L619.0,300.2 L621.0,299.1 L623.0,298.2 L625.0,297.3 L627.0,296.7 L629.0,296.1 L631.0,295.6 L633.0,295.2 L635.0,294.8 L637.0,294.4 L639.0,294.0 L641.0,293.6 L643.0,293.2 L645.0,292.8 L647.0,292.4 L649.0,292.0 L651.0,291.7 L653.0,291.3 L655.0,291.0 L657.0,290.7 L659.0,290.3 L661.0,289.9 L663.0,289.5 L665.0,289.1 L667.0,288.6 L669.0,288.1 L671.0,287.5 L673.0,286.9 L675.0,286.2 L677.0,285.5 L679.0,284.7 L681.0,284.0 L683.0,283.2 L685.0,282.4 L687.0,281.7 L689.0,281.2 L691.0,280.9 L693.0,280.7 L695.0,280.5 L696.6,280.5" stroke="#0c96f0" stroke-width="3"/>
</g>
<g stroke="#404040" stroke-width="1" fill="none"><line x1="99.5" y1="126" x2="99.5" y2="757.0"/><line x1="99.0" y1="756.5" x2="940" y2="756.5"/>
<line x1="265.85" y1="756.5" x2="265.85" y2="751.0"/>
<line x1="437.0" y1="756.5" x2="437.0" y2="751.0"/>
<line x1="608.5" y1="756.5" x2="608.5" y2="751.0"/>
<line x1="774.3" y1="756.5" x2="774.3" y2="751.0"/>
</g>
<text x="525.3" y="63.2" font-size="35.1" text-anchor="middle">Antarctic Sea Ice Extent</text>
<text x="525.5" y="109.4" font-size="35.1" text-anchor="middle">(Area of ocean with at least 15% sea ice)</text>
<text x="94.6" y="182" font-size="22" text-anchor="end">20</text>
<text x="94.6" y="279" font-size="22" text-anchor="end">18</text>
<text x="94.6" y="376" font-size="22" text-anchor="end">16</text>
<text x="94.6" y="473" font-size="22" text-anchor="end">14</text>
<text x="94.6" y="570" font-size="22" text-anchor="end">12</text>
<text x="94.6" y="667" font-size="22" text-anchor="end">10</text>
<text x="94.6" y="764" font-size="22" text-anchor="end">8</text>
<text x="178.6" y="781" font-size="22" text-anchor="middle">Jun</text>
<text x="344.5" y="781" font-size="22" text-anchor="middle">Jul</text>
<text x="514" y="781" font-size="22" text-anchor="middle">Aug</text>
<text x="685.7" y="781" font-size="22" text-anchor="middle">Sep</text>
<text x="852" y="781" font-size="22" text-anchor="middle">Oct</text>
<text transform="translate(34.2,441.3) rotate(-90)" font-size="28.1" text-anchor="middle">Extent (millions of square kilometers)</text>
<text transform="translate(960.2,486.2) rotate(-90)" font-size="16" text-anchor="middle">National Snow and Ice Data Center, University of Colorado Boulder</text>
<text x="938" y="801" font-size="14.1" text-anchor="end">17 Sep 2025</text>
<line x1="687" y1="481.9" x2="717" y2="481.9" stroke="#0c96f0" stroke-width="3"/>
<text x="721.9" y="489.6" font-size="22">2025</text>
<line x1="687" y1="513.5" x2="717" y2="513.5" stroke="#0a5a2b" stroke-width="3"/>
<text x="721.9" y="521.2" font-size="22">2024</text>
<line x1="687" y1="545.0" x2="717" y2="545.0" stroke="#ff800e" stroke-width="3"/>
<text x="721.9" y="552.9" font-size="22">2023</text>
<line x1="687" y1="576.5" x2="717" y2="576.5" stroke="#b05a2a" stroke-width="3"/>
<text x="721.9" y="584.5" font-size="22">2022</text>
<line x1="687" y1="608.2" x2="717" y2="608.2" stroke="#a716b4" stroke-width="3"/>
<text x="721.9" y="616.2" font-size="22">2021</text>
<line x1="687" y1="639.6" x2="717" y2="639.6" stroke="#8c564b" stroke-width="3" stroke-dasharray="8,8"/>
<text x="721.9" y="647.9" font-size="22">2014</text>
<line x1="687" y1="671.4" x2="717" y2="671.4" stroke="#8f8f8f" stroke-width="3"/>
<text x="721.9" y="679.5" font-size="22">1981-2010 Median</text>
<line x1="687" y1="703.9" x2="717" y2="703.9" stroke="#cfcfcf" stroke-width="6.1"/>
<text x="721.9" y="711.1" font-size="22">Interquartile Range</text>
<line x1="687" y1="735.7" x2="717" y2="735.7" stroke="#e6e6e6" stroke-width="6.1"/>
<text x="721.9" y="742.8" font-size="22">Interdecile Range</text>
</svg></body></html>
